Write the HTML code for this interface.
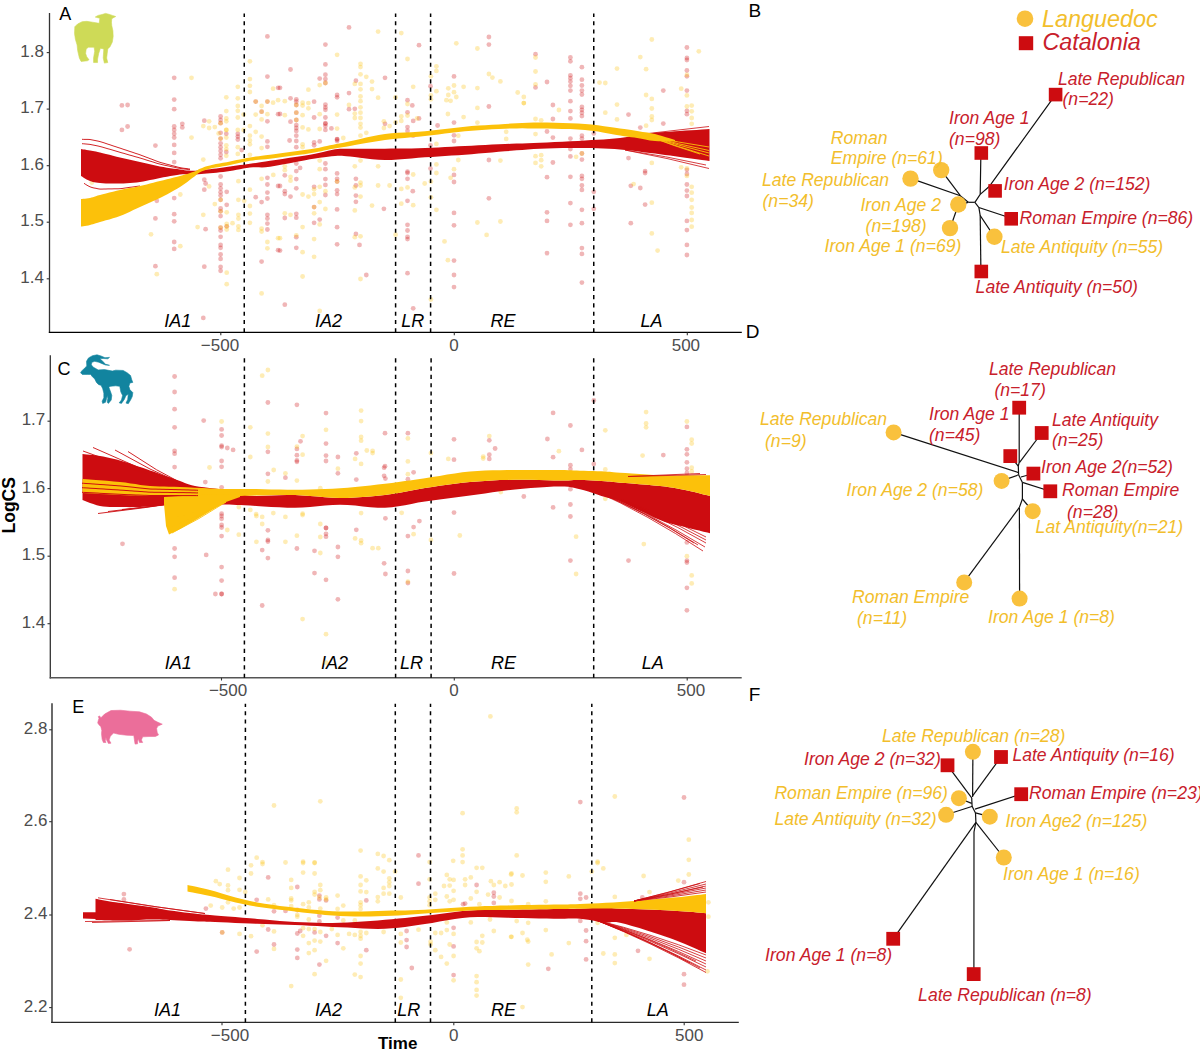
<!DOCTYPE html>
<html><head><meta charset="utf-8"><title>Figure</title>
<style>html,body{margin:0;padding:0;background:#fff;width:1200px;height:1056px;overflow:hidden}svg{display:block}text{font-family:"Liberation Sans", sans-serif}</style></head><body>
<svg width="1200" height="1056" viewBox="0 0 1200 1056">
<rect width="1200" height="1056" fill="#fff"/>
<line x1="49.50" y1="13.00" x2="49.50" y2="333.10" stroke="#333" stroke-width="1.30"/>
<line x1="48.85" y1="332.40" x2="741.80" y2="332.40" stroke="#000" stroke-width="1.40"/>
<line x1="46.7" y1="52.6" x2="49.5" y2="52.6" stroke="#333" stroke-width="1.1"/>
<text x="43.9" y="56.6" font-size="17.0" fill="#4D4D4D" text-anchor="end">1.8</text>
<line x1="46.7" y1="109.1" x2="49.5" y2="109.1" stroke="#333" stroke-width="1.1"/>
<text x="43.9" y="113.1" font-size="17.0" fill="#4D4D4D" text-anchor="end">1.7</text>
<line x1="46.7" y1="165.7" x2="49.5" y2="165.7" stroke="#333" stroke-width="1.1"/>
<text x="43.9" y="169.7" font-size="17.0" fill="#4D4D4D" text-anchor="end">1.6</text>
<line x1="46.7" y1="222.2" x2="49.5" y2="222.2" stroke="#333" stroke-width="1.1"/>
<text x="43.9" y="226.2" font-size="17.0" fill="#4D4D4D" text-anchor="end">1.5</text>
<line x1="46.7" y1="278.8" x2="49.5" y2="278.8" stroke="#333" stroke-width="1.1"/>
<text x="43.9" y="282.8" font-size="17.0" fill="#4D4D4D" text-anchor="end">1.4</text>
<line x1="220.8" y1="332.4" x2="220.8" y2="335.2" stroke="#333" stroke-width="1.1"/>
<line x1="454.3" y1="332.4" x2="454.3" y2="335.2" stroke="#333" stroke-width="1.1"/>
<line x1="687.3" y1="332.4" x2="687.3" y2="335.2" stroke="#333" stroke-width="1.1"/>
<text x="220.0" y="350.5" font-size="17.0" fill="#4D4D4D" text-anchor="middle">−500</text>
<text x="453.9" y="350.5" font-size="17.0" fill="#4D4D4D" text-anchor="middle">0</text>
<text x="685.9" y="350.5" font-size="17.0" fill="#4D4D4D" text-anchor="middle">500</text>
<text x="164.2" y="326.8" font-size="18.0" fill="#000" text-anchor="start" font-style="italic">IA1</text>
<text x="314.9" y="326.8" font-size="18.0" fill="#000" text-anchor="start" font-style="italic">IA2</text>
<text x="401.2" y="326.8" font-size="18.0" fill="#000" text-anchor="start" font-style="italic">LR</text>
<text x="490.5" y="326.8" font-size="18.0" fill="#000" text-anchor="start" font-style="italic">RE</text>
<text x="640.5" y="326.8" font-size="18.0" fill="#000" text-anchor="start" font-style="italic">LA</text>
<circle cx="174.2" cy="77.8" r="2.4" fill="rgba(205,12,16,0.30)"/>
<circle cx="174.2" cy="99.6" r="2.4" fill="rgba(205,12,16,0.30)"/>
<circle cx="174.2" cy="109.2" r="2.4" fill="rgba(205,12,16,0.30)"/>
<circle cx="121.9" cy="105.4" r="2.4" fill="rgba(205,12,16,0.30)"/>
<circle cx="127.6" cy="105.0" r="2.4" fill="rgba(205,12,16,0.30)"/>
<circle cx="121.9" cy="129.9" r="2.4" fill="rgba(205,12,16,0.30)"/>
<circle cx="127.6" cy="126.5" r="2.4" fill="rgba(205,12,16,0.30)"/>
<circle cx="155.4" cy="145.6" r="2.4" fill="rgba(205,12,16,0.30)"/>
<circle cx="174.2" cy="126.5" r="2.4" fill="rgba(205,12,16,0.30)"/>
<circle cx="174.2" cy="129.9" r="2.4" fill="rgba(205,12,16,0.30)"/>
<circle cx="174.2" cy="133.8" r="2.4" fill="rgba(205,12,16,0.30)"/>
<circle cx="174.2" cy="137.6" r="2.4" fill="rgba(205,12,16,0.30)"/>
<circle cx="174.2" cy="144.9" r="2.4" fill="rgba(205,12,16,0.30)"/>
<circle cx="174.2" cy="152.9" r="2.4" fill="rgba(205,12,16,0.30)"/>
<circle cx="174.2" cy="162.1" r="2.4" fill="rgba(205,12,16,0.30)"/>
<circle cx="182.3" cy="123.8" r="2.4" fill="rgba(205,12,16,0.30)"/>
<circle cx="182.3" cy="127.4" r="2.4" fill="rgba(205,12,16,0.30)"/>
<circle cx="204.3" cy="120.7" r="2.4" fill="rgba(205,12,16,0.30)"/>
<circle cx="220.6" cy="116.5" r="2.4" fill="rgba(205,12,16,0.30)"/>
<circle cx="220.6" cy="120.0" r="2.4" fill="rgba(205,12,16,0.30)"/>
<circle cx="220.6" cy="123.2" r="2.4" fill="rgba(205,12,16,0.30)"/>
<circle cx="220.6" cy="132.8" r="2.4" fill="rgba(205,12,16,0.30)"/>
<circle cx="220.6" cy="138.6" r="2.4" fill="rgba(205,12,16,0.30)"/>
<circle cx="220.6" cy="143.3" r="2.4" fill="rgba(205,12,16,0.30)"/>
<circle cx="220.6" cy="147.2" r="2.4" fill="rgba(205,12,16,0.30)"/>
<circle cx="220.6" cy="151.0" r="2.4" fill="rgba(205,12,16,0.30)"/>
<circle cx="220.6" cy="154.8" r="2.4" fill="rgba(205,12,16,0.30)"/>
<circle cx="220.6" cy="158.3" r="2.4" fill="rgba(205,12,16,0.30)"/>
<circle cx="226.3" cy="133.8" r="2.4" fill="rgba(205,12,16,0.30)"/>
<circle cx="226.3" cy="152.0" r="2.4" fill="rgba(205,12,16,0.30)"/>
<circle cx="237.8" cy="133.8" r="2.4" fill="rgba(205,12,16,0.30)"/>
<circle cx="237.8" cy="136.6" r="2.4" fill="rgba(205,12,16,0.30)"/>
<circle cx="237.8" cy="139.5" r="2.4" fill="rgba(205,12,16,0.30)"/>
<circle cx="241.7" cy="150.1" r="2.4" fill="rgba(205,12,16,0.30)"/>
<circle cx="255.7" cy="101.6" r="2.4" fill="rgba(205,12,16,0.30)"/>
<circle cx="261.6" cy="111.7" r="2.4" fill="rgba(205,12,16,0.30)"/>
<circle cx="267.4" cy="36.4" r="2.4" fill="rgba(205,12,16,0.30)"/>
<circle cx="267.4" cy="76.6" r="2.4" fill="rgba(205,12,16,0.30)"/>
<circle cx="267.4" cy="121.3" r="2.4" fill="rgba(205,12,16,0.30)"/>
<circle cx="267.4" cy="141.4" r="2.4" fill="rgba(205,12,16,0.30)"/>
<circle cx="267.4" cy="146.8" r="2.4" fill="rgba(205,12,16,0.30)"/>
<circle cx="278.1" cy="87.8" r="2.4" fill="rgba(205,12,16,0.30)"/>
<circle cx="278.1" cy="114.2" r="2.4" fill="rgba(205,12,16,0.30)"/>
<circle cx="267.4" cy="101.6" r="2.4" fill="rgba(205,12,16,0.30)"/>
<circle cx="191.5" cy="77.8" r="2.4" fill="rgba(252,193,10,0.30)"/>
<circle cx="191.5" cy="137.6" r="2.4" fill="rgba(252,193,10,0.30)"/>
<circle cx="203.3" cy="126.1" r="2.4" fill="rgba(252,193,10,0.30)"/>
<circle cx="203.3" cy="159.6" r="2.4" fill="rgba(252,193,10,0.30)"/>
<circle cx="209.1" cy="121.3" r="2.4" fill="rgba(252,193,10,0.30)"/>
<circle cx="209.1" cy="128.0" r="2.4" fill="rgba(252,193,10,0.30)"/>
<circle cx="214.8" cy="127.1" r="2.4" fill="rgba(252,193,10,0.30)"/>
<circle cx="218.7" cy="133.4" r="2.4" fill="rgba(252,193,10,0.30)"/>
<circle cx="226.3" cy="97.3" r="2.4" fill="rgba(252,193,10,0.30)"/>
<circle cx="226.3" cy="111.1" r="2.4" fill="rgba(252,193,10,0.30)"/>
<circle cx="226.3" cy="118.4" r="2.4" fill="rgba(252,193,10,0.30)"/>
<circle cx="226.3" cy="121.3" r="2.4" fill="rgba(252,193,10,0.30)"/>
<circle cx="226.3" cy="129.9" r="2.4" fill="rgba(252,193,10,0.30)"/>
<circle cx="226.3" cy="137.6" r="2.4" fill="rgba(252,193,10,0.30)"/>
<circle cx="226.3" cy="145.3" r="2.4" fill="rgba(252,193,10,0.30)"/>
<circle cx="226.3" cy="149.1" r="2.4" fill="rgba(252,193,10,0.30)"/>
<circle cx="226.3" cy="155.8" r="2.4" fill="rgba(252,193,10,0.30)"/>
<circle cx="237.8" cy="86.8" r="2.4" fill="rgba(252,193,10,0.30)"/>
<circle cx="237.8" cy="98.3" r="2.4" fill="rgba(252,193,10,0.30)"/>
<circle cx="237.8" cy="106.0" r="2.4" fill="rgba(252,193,10,0.30)"/>
<circle cx="237.8" cy="110.8" r="2.4" fill="rgba(252,193,10,0.30)"/>
<circle cx="237.8" cy="117.5" r="2.4" fill="rgba(252,193,10,0.30)"/>
<circle cx="237.8" cy="129.9" r="2.4" fill="rgba(252,193,10,0.30)"/>
<circle cx="237.8" cy="147.2" r="2.4" fill="rgba(252,193,10,0.30)"/>
<circle cx="237.8" cy="153.9" r="2.4" fill="rgba(252,193,10,0.30)"/>
<circle cx="243.6" cy="114.6" r="2.4" fill="rgba(252,193,10,0.30)"/>
<circle cx="243.6" cy="129.9" r="2.4" fill="rgba(252,193,10,0.30)"/>
<circle cx="249.9" cy="61.3" r="2.4" fill="rgba(252,193,10,0.30)"/>
<circle cx="249.9" cy="79.1" r="2.4" fill="rgba(252,193,10,0.30)"/>
<circle cx="249.9" cy="85.8" r="2.4" fill="rgba(252,193,10,0.30)"/>
<circle cx="249.9" cy="92.0" r="2.4" fill="rgba(252,193,10,0.30)"/>
<circle cx="249.9" cy="126.1" r="2.4" fill="rgba(252,193,10,0.30)"/>
<circle cx="249.9" cy="135.7" r="2.4" fill="rgba(252,193,10,0.30)"/>
<circle cx="249.9" cy="140.5" r="2.4" fill="rgba(252,193,10,0.30)"/>
<circle cx="249.9" cy="144.3" r="2.4" fill="rgba(252,193,10,0.30)"/>
<circle cx="249.9" cy="154.8" r="2.4" fill="rgba(252,193,10,0.30)"/>
<circle cx="255.7" cy="114.6" r="2.4" fill="rgba(252,193,10,0.30)"/>
<circle cx="255.7" cy="131.8" r="2.4" fill="rgba(252,193,10,0.30)"/>
<circle cx="261.6" cy="106.0" r="2.4" fill="rgba(252,193,10,0.30)"/>
<circle cx="261.6" cy="119.4" r="2.4" fill="rgba(252,193,10,0.30)"/>
<circle cx="261.6" cy="136.6" r="2.4" fill="rgba(252,193,10,0.30)"/>
<circle cx="261.6" cy="148.1" r="2.4" fill="rgba(252,193,10,0.30)"/>
<circle cx="267.4" cy="114.2" r="2.4" fill="rgba(252,193,10,0.30)"/>
<circle cx="273.1" cy="102.7" r="2.4" fill="rgba(252,193,10,0.30)"/>
<circle cx="273.1" cy="88.7" r="2.4" fill="rgba(252,193,10,0.30)"/>
<circle cx="278.1" cy="100.2" r="2.4" fill="rgba(252,193,10,0.30)"/>
<circle cx="220.6" cy="123.2" r="2.4" fill="rgba(252,193,10,0.30)"/>
<circle cx="220.6" cy="138.6" r="2.4" fill="rgba(252,193,10,0.30)"/>
<circle cx="226.3" cy="129.9" r="2.4" fill="rgba(252,193,10,0.30)"/>
<circle cx="255.7" cy="101.6" r="2.4" fill="rgba(252,193,10,0.30)"/>
<circle cx="261.6" cy="111.7" r="2.4" fill="rgba(252,193,10,0.30)"/>
<circle cx="267.4" cy="101.6" r="2.4" fill="rgba(252,193,10,0.30)"/>
<circle cx="156.8" cy="200.8" r="2.4" fill="rgba(205,12,16,0.30)"/>
<circle cx="155.4" cy="218.4" r="2.4" fill="rgba(205,12,16,0.30)"/>
<circle cx="155.4" cy="266.2" r="2.4" fill="rgba(205,12,16,0.30)"/>
<circle cx="174.2" cy="198.1" r="2.4" fill="rgba(205,12,16,0.30)"/>
<circle cx="174.2" cy="214.2" r="2.4" fill="rgba(205,12,16,0.30)"/>
<circle cx="174.2" cy="221.3" r="2.4" fill="rgba(205,12,16,0.30)"/>
<circle cx="174.2" cy="242.0" r="2.4" fill="rgba(205,12,16,0.30)"/>
<circle cx="174.2" cy="248.9" r="2.4" fill="rgba(205,12,16,0.30)"/>
<circle cx="204.3" cy="179.7" r="2.4" fill="rgba(205,12,16,0.30)"/>
<circle cx="205.6" cy="183.5" r="2.4" fill="rgba(205,12,16,0.30)"/>
<circle cx="204.3" cy="189.7" r="2.4" fill="rgba(205,12,16,0.30)"/>
<circle cx="205.6" cy="229.2" r="2.4" fill="rgba(205,12,16,0.30)"/>
<circle cx="204.3" cy="266.7" r="2.4" fill="rgba(205,12,16,0.30)"/>
<circle cx="203.3" cy="317.9" r="2.4" fill="rgba(205,12,16,0.30)"/>
<circle cx="220.6" cy="176.5" r="2.4" fill="rgba(205,12,16,0.30)"/>
<circle cx="220.6" cy="184.5" r="2.4" fill="rgba(205,12,16,0.30)"/>
<circle cx="220.6" cy="188.3" r="2.4" fill="rgba(205,12,16,0.30)"/>
<circle cx="220.6" cy="192.2" r="2.4" fill="rgba(205,12,16,0.30)"/>
<circle cx="220.6" cy="195.6" r="2.4" fill="rgba(205,12,16,0.30)"/>
<circle cx="220.6" cy="199.8" r="2.4" fill="rgba(205,12,16,0.30)"/>
<circle cx="220.6" cy="208.5" r="2.4" fill="rgba(205,12,16,0.30)"/>
<circle cx="220.6" cy="211.3" r="2.4" fill="rgba(205,12,16,0.30)"/>
<circle cx="220.6" cy="216.1" r="2.4" fill="rgba(205,12,16,0.30)"/>
<circle cx="220.6" cy="227.6" r="2.4" fill="rgba(205,12,16,0.30)"/>
<circle cx="220.6" cy="230.5" r="2.4" fill="rgba(205,12,16,0.30)"/>
<circle cx="220.6" cy="236.8" r="2.4" fill="rgba(205,12,16,0.30)"/>
<circle cx="220.6" cy="244.9" r="2.4" fill="rgba(205,12,16,0.30)"/>
<circle cx="220.6" cy="247.8" r="2.4" fill="rgba(205,12,16,0.30)"/>
<circle cx="220.6" cy="254.5" r="2.4" fill="rgba(205,12,16,0.30)"/>
<circle cx="220.6" cy="258.9" r="2.4" fill="rgba(205,12,16,0.30)"/>
<circle cx="220.6" cy="266.9" r="2.4" fill="rgba(205,12,16,0.30)"/>
<circle cx="220.6" cy="270.8" r="2.4" fill="rgba(205,12,16,0.30)"/>
<circle cx="226.7" cy="191.8" r="2.4" fill="rgba(205,12,16,0.30)"/>
<circle cx="226.7" cy="204.8" r="2.4" fill="rgba(205,12,16,0.30)"/>
<circle cx="226.7" cy="226.3" r="2.4" fill="rgba(205,12,16,0.30)"/>
<circle cx="255.7" cy="197.2" r="2.4" fill="rgba(205,12,16,0.30)"/>
<circle cx="261.6" cy="202.1" r="2.4" fill="rgba(205,12,16,0.30)"/>
<circle cx="261.6" cy="261.6" r="2.4" fill="rgba(205,12,16,0.30)"/>
<circle cx="267.4" cy="177.8" r="2.4" fill="rgba(205,12,16,0.30)"/>
<circle cx="267.4" cy="184.5" r="2.4" fill="rgba(205,12,16,0.30)"/>
<circle cx="267.4" cy="192.6" r="2.4" fill="rgba(205,12,16,0.30)"/>
<circle cx="267.4" cy="198.5" r="2.4" fill="rgba(205,12,16,0.30)"/>
<circle cx="267.4" cy="214.8" r="2.4" fill="rgba(205,12,16,0.30)"/>
<circle cx="267.4" cy="218.6" r="2.4" fill="rgba(205,12,16,0.30)"/>
<circle cx="267.4" cy="223.6" r="2.4" fill="rgba(205,12,16,0.30)"/>
<circle cx="267.4" cy="229.5" r="2.4" fill="rgba(205,12,16,0.30)"/>
<circle cx="278.1" cy="186.0" r="2.4" fill="rgba(205,12,16,0.30)"/>
<circle cx="278.1" cy="250.2" r="2.4" fill="rgba(205,12,16,0.30)"/>
<circle cx="91.8" cy="182.6" r="2.4" fill="rgba(252,193,10,0.30)"/>
<circle cx="151.0" cy="234.3" r="2.4" fill="rgba(252,193,10,0.30)"/>
<circle cx="156.8" cy="274.2" r="2.4" fill="rgba(252,193,10,0.30)"/>
<circle cx="180.3" cy="194.5" r="2.4" fill="rgba(252,193,10,0.30)"/>
<circle cx="180.3" cy="246.2" r="2.4" fill="rgba(252,193,10,0.30)"/>
<circle cx="197.6" cy="227.1" r="2.4" fill="rgba(252,193,10,0.30)"/>
<circle cx="203.3" cy="214.8" r="2.4" fill="rgba(252,193,10,0.30)"/>
<circle cx="209.1" cy="186.4" r="2.4" fill="rgba(252,193,10,0.30)"/>
<circle cx="214.8" cy="204.1" r="2.4" fill="rgba(252,193,10,0.30)"/>
<circle cx="226.7" cy="212.3" r="2.4" fill="rgba(252,193,10,0.30)"/>
<circle cx="226.7" cy="223.8" r="2.4" fill="rgba(252,193,10,0.30)"/>
<circle cx="226.7" cy="229.5" r="2.4" fill="rgba(252,193,10,0.30)"/>
<circle cx="226.7" cy="272.7" r="2.4" fill="rgba(252,193,10,0.30)"/>
<circle cx="226.7" cy="284.2" r="2.4" fill="rgba(252,193,10,0.30)"/>
<circle cx="232.5" cy="223.2" r="2.4" fill="rgba(252,193,10,0.30)"/>
<circle cx="238.4" cy="181.2" r="2.4" fill="rgba(252,193,10,0.30)"/>
<circle cx="238.4" cy="199.8" r="2.4" fill="rgba(252,193,10,0.30)"/>
<circle cx="238.4" cy="214.8" r="2.4" fill="rgba(252,193,10,0.30)"/>
<circle cx="238.4" cy="218.6" r="2.4" fill="rgba(252,193,10,0.30)"/>
<circle cx="238.4" cy="226.3" r="2.4" fill="rgba(252,193,10,0.30)"/>
<circle cx="238.4" cy="229.9" r="2.4" fill="rgba(252,193,10,0.30)"/>
<circle cx="244.2" cy="200.8" r="2.4" fill="rgba(252,193,10,0.30)"/>
<circle cx="249.9" cy="189.7" r="2.4" fill="rgba(252,193,10,0.30)"/>
<circle cx="249.9" cy="206.0" r="2.4" fill="rgba(252,193,10,0.30)"/>
<circle cx="249.9" cy="213.6" r="2.4" fill="rgba(252,193,10,0.30)"/>
<circle cx="249.9" cy="222.8" r="2.4" fill="rgba(252,193,10,0.30)"/>
<circle cx="261.6" cy="178.8" r="2.4" fill="rgba(252,193,10,0.30)"/>
<circle cx="261.6" cy="228.6" r="2.4" fill="rgba(252,193,10,0.30)"/>
<circle cx="261.6" cy="231.5" r="2.4" fill="rgba(252,193,10,0.30)"/>
<circle cx="261.6" cy="293.4" r="2.4" fill="rgba(252,193,10,0.30)"/>
<circle cx="267.4" cy="242.0" r="2.4" fill="rgba(252,193,10,0.30)"/>
<circle cx="267.4" cy="248.3" r="2.4" fill="rgba(252,193,10,0.30)"/>
<circle cx="273.3" cy="174.9" r="2.4" fill="rgba(252,193,10,0.30)"/>
<circle cx="278.1" cy="238.2" r="2.4" fill="rgba(252,193,10,0.30)"/>
<circle cx="220.6" cy="199.8" r="2.4" fill="rgba(252,193,10,0.30)"/>
<circle cx="220.6" cy="211.3" r="2.4" fill="rgba(252,193,10,0.30)"/>
<circle cx="220.6" cy="227.6" r="2.4" fill="rgba(252,193,10,0.30)"/>
<circle cx="226.7" cy="226.3" r="2.4" fill="rgba(252,193,10,0.30)"/>
<circle cx="349.0" cy="27.4" r="2.4" fill="rgba(205,12,16,0.30)"/>
<circle cx="325.4" cy="44.6" r="2.4" fill="rgba(205,12,16,0.30)"/>
<circle cx="325.4" cy="64.4" r="2.4" fill="rgba(205,12,16,0.30)"/>
<circle cx="325.4" cy="74.7" r="2.4" fill="rgba(205,12,16,0.30)"/>
<circle cx="325.4" cy="79.1" r="2.4" fill="rgba(205,12,16,0.30)"/>
<circle cx="290.5" cy="69.5" r="2.4" fill="rgba(205,12,16,0.30)"/>
<circle cx="319.7" cy="78.6" r="2.4" fill="rgba(205,12,16,0.30)"/>
<circle cx="280.0" cy="87.8" r="2.4" fill="rgba(205,12,16,0.30)"/>
<circle cx="290.5" cy="98.3" r="2.4" fill="rgba(205,12,16,0.30)"/>
<circle cx="296.3" cy="99.3" r="2.4" fill="rgba(205,12,16,0.30)"/>
<circle cx="296.3" cy="101.6" r="2.4" fill="rgba(205,12,16,0.30)"/>
<circle cx="296.3" cy="125.1" r="2.4" fill="rgba(205,12,16,0.30)"/>
<circle cx="296.3" cy="128.0" r="2.4" fill="rgba(205,12,16,0.30)"/>
<circle cx="296.3" cy="130.9" r="2.4" fill="rgba(205,12,16,0.30)"/>
<circle cx="296.3" cy="135.7" r="2.4" fill="rgba(205,12,16,0.30)"/>
<circle cx="296.3" cy="141.0" r="2.4" fill="rgba(205,12,16,0.30)"/>
<circle cx="296.3" cy="147.2" r="2.4" fill="rgba(205,12,16,0.30)"/>
<circle cx="296.3" cy="163.5" r="2.4" fill="rgba(205,12,16,0.30)"/>
<circle cx="296.3" cy="171.1" r="2.4" fill="rgba(205,12,16,0.30)"/>
<circle cx="290.5" cy="121.7" r="2.4" fill="rgba(205,12,16,0.30)"/>
<circle cx="289.6" cy="140.5" r="2.4" fill="rgba(205,12,16,0.30)"/>
<circle cx="280.0" cy="114.0" r="2.4" fill="rgba(205,12,16,0.30)"/>
<circle cx="314.1" cy="101.7" r="2.4" fill="rgba(205,12,16,0.30)"/>
<circle cx="314.1" cy="142.4" r="2.4" fill="rgba(205,12,16,0.30)"/>
<circle cx="314.1" cy="145.3" r="2.4" fill="rgba(205,12,16,0.30)"/>
<circle cx="319.7" cy="141.4" r="2.4" fill="rgba(205,12,16,0.30)"/>
<circle cx="325.4" cy="104.6" r="2.4" fill="rgba(205,12,16,0.30)"/>
<circle cx="325.4" cy="107.3" r="2.4" fill="rgba(205,12,16,0.30)"/>
<circle cx="325.4" cy="109.8" r="2.4" fill="rgba(205,12,16,0.30)"/>
<circle cx="325.4" cy="117.5" r="2.4" fill="rgba(205,12,16,0.30)"/>
<circle cx="325.4" cy="123.2" r="2.4" fill="rgba(205,12,16,0.30)"/>
<circle cx="325.4" cy="126.1" r="2.4" fill="rgba(205,12,16,0.30)"/>
<circle cx="325.4" cy="129.9" r="2.4" fill="rgba(205,12,16,0.30)"/>
<circle cx="325.4" cy="163.5" r="2.4" fill="rgba(205,12,16,0.30)"/>
<circle cx="325.4" cy="169.2" r="2.4" fill="rgba(205,12,16,0.30)"/>
<circle cx="331.4" cy="128.4" r="2.4" fill="rgba(205,12,16,0.30)"/>
<circle cx="337.1" cy="95.0" r="2.4" fill="rgba(205,12,16,0.30)"/>
<circle cx="337.1" cy="97.3" r="2.4" fill="rgba(205,12,16,0.30)"/>
<circle cx="337.1" cy="139.1" r="2.4" fill="rgba(205,12,16,0.30)"/>
<circle cx="337.1" cy="141.0" r="2.4" fill="rgba(205,12,16,0.30)"/>
<circle cx="349.0" cy="93.1" r="2.4" fill="rgba(205,12,16,0.30)"/>
<circle cx="349.0" cy="109.2" r="2.4" fill="rgba(205,12,16,0.30)"/>
<circle cx="354.8" cy="108.8" r="2.4" fill="rgba(205,12,16,0.30)"/>
<circle cx="355.9" cy="80.7" r="2.4" fill="rgba(205,12,16,0.30)"/>
<circle cx="385.0" cy="77.8" r="2.4" fill="rgba(205,12,16,0.30)"/>
<circle cx="385.0" cy="123.8" r="2.4" fill="rgba(205,12,16,0.30)"/>
<circle cx="407.5" cy="100.2" r="2.4" fill="rgba(205,12,16,0.30)"/>
<circle cx="412.3" cy="105.4" r="2.4" fill="rgba(205,12,16,0.30)"/>
<circle cx="407.5" cy="112.3" r="2.4" fill="rgba(205,12,16,0.30)"/>
<circle cx="413.2" cy="120.9" r="2.4" fill="rgba(205,12,16,0.30)"/>
<circle cx="419.0" cy="118.4" r="2.4" fill="rgba(205,12,16,0.30)"/>
<circle cx="407.5" cy="127.1" r="2.4" fill="rgba(205,12,16,0.30)"/>
<circle cx="407.5" cy="130.9" r="2.4" fill="rgba(205,12,16,0.30)"/>
<circle cx="413.2" cy="135.7" r="2.4" fill="rgba(205,12,16,0.30)"/>
<circle cx="419.0" cy="45.2" r="2.4" fill="rgba(205,12,16,0.30)"/>
<circle cx="430.5" cy="86.2" r="2.4" fill="rgba(205,12,16,0.30)"/>
<circle cx="430.5" cy="145.3" r="2.4" fill="rgba(205,12,16,0.30)"/>
<circle cx="430.5" cy="168.6" r="2.4" fill="rgba(205,12,16,0.30)"/>
<circle cx="437.6" cy="125.5" r="2.4" fill="rgba(205,12,16,0.30)"/>
<circle cx="454.0" cy="76.4" r="2.4" fill="rgba(205,12,16,0.30)"/>
<circle cx="454.0" cy="122.6" r="2.4" fill="rgba(205,12,16,0.30)"/>
<circle cx="454.0" cy="135.3" r="2.4" fill="rgba(205,12,16,0.30)"/>
<circle cx="454.0" cy="141.0" r="2.4" fill="rgba(205,12,16,0.30)"/>
<circle cx="488.9" cy="37.0" r="2.4" fill="rgba(205,12,16,0.30)"/>
<circle cx="488.9" cy="44.6" r="2.4" fill="rgba(205,12,16,0.30)"/>
<circle cx="488.9" cy="106.5" r="2.4" fill="rgba(205,12,16,0.30)"/>
<circle cx="488.9" cy="160.0" r="2.4" fill="rgba(205,12,16,0.30)"/>
<circle cx="407.5" cy="171.7" r="2.4" fill="rgba(205,12,16,0.30)"/>
<circle cx="300.1" cy="167.9" r="2.4" fill="rgba(205,12,16,0.30)"/>
<circle cx="296.3" cy="105.0" r="2.4" fill="rgba(205,12,16,0.30)"/>
<circle cx="296.3" cy="112.7" r="2.4" fill="rgba(205,12,16,0.30)"/>
<circle cx="296.3" cy="120.0" r="2.4" fill="rgba(205,12,16,0.30)"/>
<circle cx="314.1" cy="117.5" r="2.4" fill="rgba(205,12,16,0.30)"/>
<circle cx="325.4" cy="83.0" r="2.4" fill="rgba(205,12,16,0.30)"/>
<circle cx="325.4" cy="123.8" r="2.4" fill="rgba(205,12,16,0.30)"/>
<circle cx="337.1" cy="139.5" r="2.4" fill="rgba(205,12,16,0.30)"/>
<circle cx="378.1" cy="31.6" r="2.4" fill="rgba(252,193,10,0.30)"/>
<circle cx="401.3" cy="33.1" r="2.4" fill="rgba(252,193,10,0.30)"/>
<circle cx="337.1" cy="54.8" r="2.4" fill="rgba(252,193,10,0.30)"/>
<circle cx="407.5" cy="59.0" r="2.4" fill="rgba(252,193,10,0.30)"/>
<circle cx="360.5" cy="63.8" r="2.4" fill="rgba(252,193,10,0.30)"/>
<circle cx="360.5" cy="67.1" r="2.4" fill="rgba(252,193,10,0.30)"/>
<circle cx="360.5" cy="74.3" r="2.4" fill="rgba(252,193,10,0.30)"/>
<circle cx="366.3" cy="76.8" r="2.4" fill="rgba(252,193,10,0.30)"/>
<circle cx="354.8" cy="83.9" r="2.4" fill="rgba(252,193,10,0.30)"/>
<circle cx="360.5" cy="83.9" r="2.4" fill="rgba(252,193,10,0.30)"/>
<circle cx="360.5" cy="89.3" r="2.4" fill="rgba(252,193,10,0.30)"/>
<circle cx="360.5" cy="96.4" r="2.4" fill="rgba(252,193,10,0.30)"/>
<circle cx="360.5" cy="101.2" r="2.4" fill="rgba(252,193,10,0.30)"/>
<circle cx="360.5" cy="107.3" r="2.4" fill="rgba(252,193,10,0.30)"/>
<circle cx="360.5" cy="112.7" r="2.4" fill="rgba(252,193,10,0.30)"/>
<circle cx="360.5" cy="118.0" r="2.4" fill="rgba(252,193,10,0.30)"/>
<circle cx="360.5" cy="123.8" r="2.4" fill="rgba(252,193,10,0.30)"/>
<circle cx="360.5" cy="127.6" r="2.4" fill="rgba(252,193,10,0.30)"/>
<circle cx="360.5" cy="135.7" r="2.4" fill="rgba(252,193,10,0.30)"/>
<circle cx="366.3" cy="132.8" r="2.4" fill="rgba(252,193,10,0.30)"/>
<circle cx="372.0" cy="81.6" r="2.4" fill="rgba(252,193,10,0.30)"/>
<circle cx="372.0" cy="89.1" r="2.4" fill="rgba(252,193,10,0.30)"/>
<circle cx="308.4" cy="89.7" r="2.4" fill="rgba(252,193,10,0.30)"/>
<circle cx="319.7" cy="85.1" r="2.4" fill="rgba(252,193,10,0.30)"/>
<circle cx="284.8" cy="101.2" r="2.4" fill="rgba(252,193,10,0.30)"/>
<circle cx="302.6" cy="102.7" r="2.4" fill="rgba(252,193,10,0.30)"/>
<circle cx="302.6" cy="105.6" r="2.4" fill="rgba(252,193,10,0.30)"/>
<circle cx="308.4" cy="103.1" r="2.4" fill="rgba(252,193,10,0.30)"/>
<circle cx="308.4" cy="108.3" r="2.4" fill="rgba(252,193,10,0.30)"/>
<circle cx="284.8" cy="115.2" r="2.4" fill="rgba(252,193,10,0.30)"/>
<circle cx="302.6" cy="115.2" r="2.4" fill="rgba(252,193,10,0.30)"/>
<circle cx="308.4" cy="129.4" r="2.4" fill="rgba(252,193,10,0.30)"/>
<circle cx="302.6" cy="127.4" r="2.4" fill="rgba(252,193,10,0.30)"/>
<circle cx="319.7" cy="114.2" r="2.4" fill="rgba(252,193,10,0.30)"/>
<circle cx="319.7" cy="129.0" r="2.4" fill="rgba(252,193,10,0.30)"/>
<circle cx="337.1" cy="114.6" r="2.4" fill="rgba(252,193,10,0.30)"/>
<circle cx="337.1" cy="128.6" r="2.4" fill="rgba(252,193,10,0.30)"/>
<circle cx="343.3" cy="138.0" r="2.4" fill="rgba(252,193,10,0.30)"/>
<circle cx="349.0" cy="105.0" r="2.4" fill="rgba(252,193,10,0.30)"/>
<circle cx="354.8" cy="113.6" r="2.4" fill="rgba(252,193,10,0.30)"/>
<circle cx="354.8" cy="118.0" r="2.4" fill="rgba(252,193,10,0.30)"/>
<circle cx="378.1" cy="97.7" r="2.4" fill="rgba(252,193,10,0.30)"/>
<circle cx="383.9" cy="121.3" r="2.4" fill="rgba(252,193,10,0.30)"/>
<circle cx="383.9" cy="128.0" r="2.4" fill="rgba(252,193,10,0.30)"/>
<circle cx="389.6" cy="126.1" r="2.4" fill="rgba(252,193,10,0.30)"/>
<circle cx="395.6" cy="97.3" r="2.4" fill="rgba(252,193,10,0.30)"/>
<circle cx="395.6" cy="122.3" r="2.4" fill="rgba(252,193,10,0.30)"/>
<circle cx="401.3" cy="116.5" r="2.4" fill="rgba(252,193,10,0.30)"/>
<circle cx="401.3" cy="120.9" r="2.4" fill="rgba(252,193,10,0.30)"/>
<circle cx="407.5" cy="104.0" r="2.4" fill="rgba(252,193,10,0.30)"/>
<circle cx="407.5" cy="115.5" r="2.4" fill="rgba(252,193,10,0.30)"/>
<circle cx="413.2" cy="86.8" r="2.4" fill="rgba(252,193,10,0.30)"/>
<circle cx="417.1" cy="118.4" r="2.4" fill="rgba(252,193,10,0.30)"/>
<circle cx="436.4" cy="66.3" r="2.4" fill="rgba(252,193,10,0.30)"/>
<circle cx="436.4" cy="70.9" r="2.4" fill="rgba(252,193,10,0.30)"/>
<circle cx="430.9" cy="76.3" r="2.4" fill="rgba(252,193,10,0.30)"/>
<circle cx="436.4" cy="91.2" r="2.4" fill="rgba(252,193,10,0.30)"/>
<circle cx="430.9" cy="95.4" r="2.4" fill="rgba(252,193,10,0.30)"/>
<circle cx="430.9" cy="99.3" r="2.4" fill="rgba(252,193,10,0.30)"/>
<circle cx="448.3" cy="88.3" r="2.4" fill="rgba(252,193,10,0.30)"/>
<circle cx="454.0" cy="85.5" r="2.4" fill="rgba(252,193,10,0.30)"/>
<circle cx="454.0" cy="92.2" r="2.4" fill="rgba(252,193,10,0.30)"/>
<circle cx="448.3" cy="95.0" r="2.4" fill="rgba(252,193,10,0.30)"/>
<circle cx="456.3" cy="97.0" r="2.4" fill="rgba(252,193,10,0.30)"/>
<circle cx="446.4" cy="100.2" r="2.4" fill="rgba(252,193,10,0.30)"/>
<circle cx="450.6" cy="100.8" r="2.4" fill="rgba(252,193,10,0.30)"/>
<circle cx="463.6" cy="86.8" r="2.4" fill="rgba(252,193,10,0.30)"/>
<circle cx="477.4" cy="48.5" r="2.4" fill="rgba(252,193,10,0.30)"/>
<circle cx="456.3" cy="43.3" r="2.4" fill="rgba(252,193,10,0.30)"/>
<circle cx="477.4" cy="88.1" r="2.4" fill="rgba(252,193,10,0.30)"/>
<circle cx="477.4" cy="107.9" r="2.4" fill="rgba(252,193,10,0.30)"/>
<circle cx="488.9" cy="74.0" r="2.4" fill="rgba(252,193,10,0.30)"/>
<circle cx="492.4" cy="77.6" r="2.4" fill="rgba(252,193,10,0.30)"/>
<circle cx="500.4" cy="81.4" r="2.4" fill="rgba(252,193,10,0.30)"/>
<circle cx="463.6" cy="117.1" r="2.4" fill="rgba(252,193,10,0.30)"/>
<circle cx="447.9" cy="114.0" r="2.4" fill="rgba(252,193,10,0.30)"/>
<circle cx="477.4" cy="122.6" r="2.4" fill="rgba(252,193,10,0.30)"/>
<circle cx="458.3" cy="135.7" r="2.4" fill="rgba(252,193,10,0.30)"/>
<circle cx="506.2" cy="131.8" r="2.4" fill="rgba(252,193,10,0.30)"/>
<circle cx="506.2" cy="138.9" r="2.4" fill="rgba(252,193,10,0.30)"/>
<circle cx="302.6" cy="144.3" r="2.4" fill="rgba(252,193,10,0.30)"/>
<circle cx="302.6" cy="147.2" r="2.4" fill="rgba(252,193,10,0.30)"/>
<circle cx="319.7" cy="160.6" r="2.4" fill="rgba(252,193,10,0.30)"/>
<circle cx="354.8" cy="166.3" r="2.4" fill="rgba(252,193,10,0.30)"/>
<circle cx="360.5" cy="160.6" r="2.4" fill="rgba(252,193,10,0.30)"/>
<circle cx="378.1" cy="166.3" r="2.4" fill="rgba(252,193,10,0.30)"/>
<circle cx="436.4" cy="164.4" r="2.4" fill="rgba(252,193,10,0.30)"/>
<circle cx="436.4" cy="143.9" r="2.4" fill="rgba(252,193,10,0.30)"/>
<circle cx="458.3" cy="160.0" r="2.4" fill="rgba(252,193,10,0.30)"/>
<circle cx="500.4" cy="160.6" r="2.4" fill="rgba(252,193,10,0.30)"/>
<circle cx="284.8" cy="166.3" r="2.4" fill="rgba(252,193,10,0.30)"/>
<circle cx="284.8" cy="170.2" r="2.4" fill="rgba(252,193,10,0.30)"/>
<circle cx="319.7" cy="169.2" r="2.4" fill="rgba(252,193,10,0.30)"/>
<circle cx="296.3" cy="105.0" r="2.4" fill="rgba(252,193,10,0.30)"/>
<circle cx="296.3" cy="112.7" r="2.4" fill="rgba(252,193,10,0.30)"/>
<circle cx="296.3" cy="120.0" r="2.4" fill="rgba(252,193,10,0.30)"/>
<circle cx="325.4" cy="83.0" r="2.4" fill="rgba(252,193,10,0.30)"/>
<circle cx="454.0" cy="169.2" r="2.4" fill="rgba(252,193,10,0.30)"/>
<circle cx="284.8" cy="175.3" r="2.4" fill="rgba(205,12,16,0.30)"/>
<circle cx="284.8" cy="191.2" r="2.4" fill="rgba(205,12,16,0.30)"/>
<circle cx="284.8" cy="194.1" r="2.4" fill="rgba(205,12,16,0.30)"/>
<circle cx="284.8" cy="218.0" r="2.4" fill="rgba(205,12,16,0.30)"/>
<circle cx="284.8" cy="304.7" r="2.4" fill="rgba(205,12,16,0.30)"/>
<circle cx="290.5" cy="196.6" r="2.4" fill="rgba(205,12,16,0.30)"/>
<circle cx="296.3" cy="179.1" r="2.4" fill="rgba(205,12,16,0.30)"/>
<circle cx="296.3" cy="188.3" r="2.4" fill="rgba(205,12,16,0.30)"/>
<circle cx="296.3" cy="213.8" r="2.4" fill="rgba(205,12,16,0.30)"/>
<circle cx="296.3" cy="217.7" r="2.4" fill="rgba(205,12,16,0.30)"/>
<circle cx="296.3" cy="237.2" r="2.4" fill="rgba(205,12,16,0.30)"/>
<circle cx="296.3" cy="247.8" r="2.4" fill="rgba(205,12,16,0.30)"/>
<circle cx="280.0" cy="186.0" r="2.4" fill="rgba(205,12,16,0.30)"/>
<circle cx="280.0" cy="250.6" r="2.4" fill="rgba(205,12,16,0.30)"/>
<circle cx="314.1" cy="186.8" r="2.4" fill="rgba(205,12,16,0.30)"/>
<circle cx="314.1" cy="207.1" r="2.4" fill="rgba(205,12,16,0.30)"/>
<circle cx="314.1" cy="222.8" r="2.4" fill="rgba(205,12,16,0.30)"/>
<circle cx="319.7" cy="219.6" r="2.4" fill="rgba(205,12,16,0.30)"/>
<circle cx="325.4" cy="179.1" r="2.4" fill="rgba(205,12,16,0.30)"/>
<circle cx="325.4" cy="184.9" r="2.4" fill="rgba(205,12,16,0.30)"/>
<circle cx="325.4" cy="195.0" r="2.4" fill="rgba(205,12,16,0.30)"/>
<circle cx="337.1" cy="173.4" r="2.4" fill="rgba(205,12,16,0.30)"/>
<circle cx="337.1" cy="178.8" r="2.4" fill="rgba(205,12,16,0.30)"/>
<circle cx="337.1" cy="181.6" r="2.4" fill="rgba(205,12,16,0.30)"/>
<circle cx="337.1" cy="190.3" r="2.4" fill="rgba(205,12,16,0.30)"/>
<circle cx="337.1" cy="194.1" r="2.4" fill="rgba(205,12,16,0.30)"/>
<circle cx="337.1" cy="209.4" r="2.4" fill="rgba(205,12,16,0.30)"/>
<circle cx="337.1" cy="227.2" r="2.4" fill="rgba(205,12,16,0.30)"/>
<circle cx="337.1" cy="244.3" r="2.4" fill="rgba(205,12,16,0.30)"/>
<circle cx="355.9" cy="178.8" r="2.4" fill="rgba(205,12,16,0.30)"/>
<circle cx="355.9" cy="185.5" r="2.4" fill="rgba(205,12,16,0.30)"/>
<circle cx="355.9" cy="195.6" r="2.4" fill="rgba(205,12,16,0.30)"/>
<circle cx="355.9" cy="201.8" r="2.4" fill="rgba(205,12,16,0.30)"/>
<circle cx="355.9" cy="234.0" r="2.4" fill="rgba(205,12,16,0.30)"/>
<circle cx="359.5" cy="244.9" r="2.4" fill="rgba(205,12,16,0.30)"/>
<circle cx="366.3" cy="275.0" r="2.4" fill="rgba(205,12,16,0.30)"/>
<circle cx="383.9" cy="208.8" r="2.4" fill="rgba(205,12,16,0.30)"/>
<circle cx="407.5" cy="173.0" r="2.4" fill="rgba(205,12,16,0.30)"/>
<circle cx="407.5" cy="178.8" r="2.4" fill="rgba(205,12,16,0.30)"/>
<circle cx="412.8" cy="191.2" r="2.4" fill="rgba(205,12,16,0.30)"/>
<circle cx="407.5" cy="200.8" r="2.4" fill="rgba(205,12,16,0.30)"/>
<circle cx="407.5" cy="224.8" r="2.4" fill="rgba(205,12,16,0.30)"/>
<circle cx="407.5" cy="230.5" r="2.4" fill="rgba(205,12,16,0.30)"/>
<circle cx="407.5" cy="236.8" r="2.4" fill="rgba(205,12,16,0.30)"/>
<circle cx="407.5" cy="239.1" r="2.4" fill="rgba(205,12,16,0.30)"/>
<circle cx="407.5" cy="273.2" r="2.4" fill="rgba(205,12,16,0.30)"/>
<circle cx="413.2" cy="308.3" r="2.4" fill="rgba(205,12,16,0.30)"/>
<circle cx="454.0" cy="174.9" r="2.4" fill="rgba(205,12,16,0.30)"/>
<circle cx="454.0" cy="182.0" r="2.4" fill="rgba(205,12,16,0.30)"/>
<circle cx="454.0" cy="212.9" r="2.4" fill="rgba(205,12,16,0.30)"/>
<circle cx="454.0" cy="225.3" r="2.4" fill="rgba(205,12,16,0.30)"/>
<circle cx="454.0" cy="260.6" r="2.4" fill="rgba(205,12,16,0.30)"/>
<circle cx="454.0" cy="275.0" r="2.4" fill="rgba(205,12,16,0.30)"/>
<circle cx="454.0" cy="287.1" r="2.4" fill="rgba(205,12,16,0.30)"/>
<circle cx="488.9" cy="198.3" r="2.4" fill="rgba(205,12,16,0.30)"/>
<circle cx="290.5" cy="176.8" r="2.4" fill="rgba(252,193,10,0.30)"/>
<circle cx="290.5" cy="180.7" r="2.4" fill="rgba(252,193,10,0.30)"/>
<circle cx="284.8" cy="213.3" r="2.4" fill="rgba(252,193,10,0.30)"/>
<circle cx="290.5" cy="214.8" r="2.4" fill="rgba(252,193,10,0.30)"/>
<circle cx="302.6" cy="194.5" r="2.4" fill="rgba(252,193,10,0.30)"/>
<circle cx="308.4" cy="196.6" r="2.4" fill="rgba(252,193,10,0.30)"/>
<circle cx="302.6" cy="227.1" r="2.4" fill="rgba(252,193,10,0.30)"/>
<circle cx="296.3" cy="235.3" r="2.4" fill="rgba(252,193,10,0.30)"/>
<circle cx="302.6" cy="252.2" r="2.4" fill="rgba(252,193,10,0.30)"/>
<circle cx="302.6" cy="276.5" r="2.4" fill="rgba(252,193,10,0.30)"/>
<circle cx="280.0" cy="238.2" r="2.4" fill="rgba(252,193,10,0.30)"/>
<circle cx="314.1" cy="189.3" r="2.4" fill="rgba(252,193,10,0.30)"/>
<circle cx="314.1" cy="194.1" r="2.4" fill="rgba(252,193,10,0.30)"/>
<circle cx="314.1" cy="213.3" r="2.4" fill="rgba(252,193,10,0.30)"/>
<circle cx="314.1" cy="239.1" r="2.4" fill="rgba(252,193,10,0.30)"/>
<circle cx="314.1" cy="256.8" r="2.4" fill="rgba(252,193,10,0.30)"/>
<circle cx="319.7" cy="186.8" r="2.4" fill="rgba(252,193,10,0.30)"/>
<circle cx="319.7" cy="202.1" r="2.4" fill="rgba(252,193,10,0.30)"/>
<circle cx="319.7" cy="224.4" r="2.4" fill="rgba(252,193,10,0.30)"/>
<circle cx="325.4" cy="191.2" r="2.4" fill="rgba(252,193,10,0.30)"/>
<circle cx="325.4" cy="209.0" r="2.4" fill="rgba(252,193,10,0.30)"/>
<circle cx="319.7" cy="311.0" r="2.4" fill="rgba(252,193,10,0.30)"/>
<circle cx="354.8" cy="187.4" r="2.4" fill="rgba(252,193,10,0.30)"/>
<circle cx="360.5" cy="182.6" r="2.4" fill="rgba(252,193,10,0.30)"/>
<circle cx="360.5" cy="185.5" r="2.4" fill="rgba(252,193,10,0.30)"/>
<circle cx="360.5" cy="196.6" r="2.4" fill="rgba(252,193,10,0.30)"/>
<circle cx="354.8" cy="210.4" r="2.4" fill="rgba(252,193,10,0.30)"/>
<circle cx="354.8" cy="237.2" r="2.4" fill="rgba(252,193,10,0.30)"/>
<circle cx="360.5" cy="236.3" r="2.4" fill="rgba(252,193,10,0.30)"/>
<circle cx="360.5" cy="279.0" r="2.4" fill="rgba(252,193,10,0.30)"/>
<circle cx="372.0" cy="205.6" r="2.4" fill="rgba(252,193,10,0.30)"/>
<circle cx="378.1" cy="185.5" r="2.4" fill="rgba(252,193,10,0.30)"/>
<circle cx="389.6" cy="185.5" r="2.4" fill="rgba(252,193,10,0.30)"/>
<circle cx="395.6" cy="234.7" r="2.4" fill="rgba(252,193,10,0.30)"/>
<circle cx="401.3" cy="188.9" r="2.4" fill="rgba(252,193,10,0.30)"/>
<circle cx="407.5" cy="187.4" r="2.4" fill="rgba(252,193,10,0.30)"/>
<circle cx="401.3" cy="203.7" r="2.4" fill="rgba(252,193,10,0.30)"/>
<circle cx="413.2" cy="205.2" r="2.4" fill="rgba(252,193,10,0.30)"/>
<circle cx="413.2" cy="174.5" r="2.4" fill="rgba(252,193,10,0.30)"/>
<circle cx="424.7" cy="183.5" r="2.4" fill="rgba(252,193,10,0.30)"/>
<circle cx="430.9" cy="181.6" r="2.4" fill="rgba(252,193,10,0.30)"/>
<circle cx="430.9" cy="197.3" r="2.4" fill="rgba(252,193,10,0.30)"/>
<circle cx="436.4" cy="209.8" r="2.4" fill="rgba(252,193,10,0.30)"/>
<circle cx="436.4" cy="173.0" r="2.4" fill="rgba(252,193,10,0.30)"/>
<circle cx="430.9" cy="299.5" r="2.4" fill="rgba(252,193,10,0.30)"/>
<circle cx="450.6" cy="177.8" r="2.4" fill="rgba(252,193,10,0.30)"/>
<circle cx="444.5" cy="241.4" r="2.4" fill="rgba(252,193,10,0.30)"/>
<circle cx="447.9" cy="260.2" r="2.4" fill="rgba(252,193,10,0.30)"/>
<circle cx="477.4" cy="222.5" r="2.4" fill="rgba(252,193,10,0.30)"/>
<circle cx="486.6" cy="234.9" r="2.4" fill="rgba(252,193,10,0.30)"/>
<circle cx="500.4" cy="221.5" r="2.4" fill="rgba(252,193,10,0.30)"/>
<circle cx="314.1" cy="207.1" r="2.4" fill="rgba(252,193,10,0.30)"/>
<circle cx="337.1" cy="181.6" r="2.4" fill="rgba(252,193,10,0.30)"/>
<circle cx="535.5" cy="54.2" r="2.4" fill="rgba(205,12,16,0.30)"/>
<circle cx="535.5" cy="87.4" r="2.4" fill="rgba(205,12,16,0.30)"/>
<circle cx="547.0" cy="82.0" r="2.4" fill="rgba(205,12,16,0.30)"/>
<circle cx="552.9" cy="105.0" r="2.4" fill="rgba(205,12,16,0.30)"/>
<circle cx="552.9" cy="119.0" r="2.4" fill="rgba(205,12,16,0.30)"/>
<circle cx="547.0" cy="131.5" r="2.4" fill="rgba(205,12,16,0.30)"/>
<circle cx="552.9" cy="137.6" r="2.4" fill="rgba(205,12,16,0.30)"/>
<circle cx="552.9" cy="162.5" r="2.4" fill="rgba(205,12,16,0.30)"/>
<circle cx="570.4" cy="57.5" r="2.4" fill="rgba(205,12,16,0.30)"/>
<circle cx="570.4" cy="61.3" r="2.4" fill="rgba(205,12,16,0.30)"/>
<circle cx="570.4" cy="75.3" r="2.4" fill="rgba(205,12,16,0.30)"/>
<circle cx="570.4" cy="78.2" r="2.4" fill="rgba(205,12,16,0.30)"/>
<circle cx="570.4" cy="81.6" r="2.4" fill="rgba(205,12,16,0.30)"/>
<circle cx="570.4" cy="85.8" r="2.4" fill="rgba(205,12,16,0.30)"/>
<circle cx="570.4" cy="90.6" r="2.4" fill="rgba(205,12,16,0.30)"/>
<circle cx="570.4" cy="101.2" r="2.4" fill="rgba(205,12,16,0.30)"/>
<circle cx="570.4" cy="111.1" r="2.4" fill="rgba(205,12,16,0.30)"/>
<circle cx="570.4" cy="118.4" r="2.4" fill="rgba(205,12,16,0.30)"/>
<circle cx="570.4" cy="138.6" r="2.4" fill="rgba(205,12,16,0.30)"/>
<circle cx="570.4" cy="149.1" r="2.4" fill="rgba(205,12,16,0.30)"/>
<circle cx="570.4" cy="156.4" r="2.4" fill="rgba(205,12,16,0.30)"/>
<circle cx="581.9" cy="67.2" r="2.4" fill="rgba(205,12,16,0.30)"/>
<circle cx="581.9" cy="79.7" r="2.4" fill="rgba(205,12,16,0.30)"/>
<circle cx="581.9" cy="85.5" r="2.4" fill="rgba(205,12,16,0.30)"/>
<circle cx="581.9" cy="90.6" r="2.4" fill="rgba(205,12,16,0.30)"/>
<circle cx="581.9" cy="94.5" r="2.4" fill="rgba(205,12,16,0.30)"/>
<circle cx="581.9" cy="106.9" r="2.4" fill="rgba(205,12,16,0.30)"/>
<circle cx="581.9" cy="109.8" r="2.4" fill="rgba(205,12,16,0.30)"/>
<circle cx="581.9" cy="112.7" r="2.4" fill="rgba(205,12,16,0.30)"/>
<circle cx="581.9" cy="116.1" r="2.4" fill="rgba(205,12,16,0.30)"/>
<circle cx="581.9" cy="135.7" r="2.4" fill="rgba(205,12,16,0.30)"/>
<circle cx="581.9" cy="138.6" r="2.4" fill="rgba(205,12,16,0.30)"/>
<circle cx="581.9" cy="159.6" r="2.4" fill="rgba(205,12,16,0.30)"/>
<circle cx="593.8" cy="133.4" r="2.4" fill="rgba(205,12,16,0.30)"/>
<circle cx="628.5" cy="114.6" r="2.4" fill="rgba(205,12,16,0.30)"/>
<circle cx="628.5" cy="158.1" r="2.4" fill="rgba(205,12,16,0.30)"/>
<circle cx="640.3" cy="127.6" r="2.4" fill="rgba(205,12,16,0.30)"/>
<circle cx="645.1" cy="171.1" r="2.4" fill="rgba(205,12,16,0.30)"/>
<circle cx="663.3" cy="90.6" r="2.4" fill="rgba(205,12,16,0.30)"/>
<circle cx="663.3" cy="123.6" r="2.4" fill="rgba(205,12,16,0.30)"/>
<circle cx="686.9" cy="47.5" r="2.4" fill="rgba(205,12,16,0.30)"/>
<circle cx="686.9" cy="58.0" r="2.4" fill="rgba(205,12,16,0.30)"/>
<circle cx="686.9" cy="60.0" r="2.4" fill="rgba(205,12,16,0.30)"/>
<circle cx="686.9" cy="70.5" r="2.4" fill="rgba(205,12,16,0.30)"/>
<circle cx="686.9" cy="76.3" r="2.4" fill="rgba(205,12,16,0.30)"/>
<circle cx="686.9" cy="90.6" r="2.4" fill="rgba(205,12,16,0.30)"/>
<circle cx="686.9" cy="110.8" r="2.4" fill="rgba(205,12,16,0.30)"/>
<circle cx="686.9" cy="114.2" r="2.4" fill="rgba(205,12,16,0.30)"/>
<circle cx="686.9" cy="169.8" r="2.4" fill="rgba(205,12,16,0.30)"/>
<circle cx="581.9" cy="153.5" r="2.4" fill="rgba(205,12,16,0.30)"/>
<circle cx="535.5" cy="57.5" r="2.4" fill="rgba(252,193,10,0.30)"/>
<circle cx="535.5" cy="71.5" r="2.4" fill="rgba(252,193,10,0.30)"/>
<circle cx="535.5" cy="84.3" r="2.4" fill="rgba(252,193,10,0.30)"/>
<circle cx="517.7" cy="92.5" r="2.4" fill="rgba(252,193,10,0.30)"/>
<circle cx="523.8" cy="97.0" r="2.4" fill="rgba(252,193,10,0.30)"/>
<circle cx="523.8" cy="103.1" r="2.4" fill="rgba(252,193,10,0.30)"/>
<circle cx="558.9" cy="110.0" r="2.4" fill="rgba(252,193,10,0.30)"/>
<circle cx="535.5" cy="119.0" r="2.4" fill="rgba(252,193,10,0.30)"/>
<circle cx="541.2" cy="120.3" r="2.4" fill="rgba(252,193,10,0.30)"/>
<circle cx="535.5" cy="134.1" r="2.4" fill="rgba(252,193,10,0.30)"/>
<circle cx="535.5" cy="156.2" r="2.4" fill="rgba(252,193,10,0.30)"/>
<circle cx="541.2" cy="155.2" r="2.4" fill="rgba(252,193,10,0.30)"/>
<circle cx="535.5" cy="162.9" r="2.4" fill="rgba(252,193,10,0.30)"/>
<circle cx="541.2" cy="160.2" r="2.4" fill="rgba(252,193,10,0.30)"/>
<circle cx="541.2" cy="166.3" r="2.4" fill="rgba(252,193,10,0.30)"/>
<circle cx="576.1" cy="156.8" r="2.4" fill="rgba(252,193,10,0.30)"/>
<circle cx="599.5" cy="82.6" r="2.4" fill="rgba(252,193,10,0.30)"/>
<circle cx="605.3" cy="83.0" r="2.4" fill="rgba(252,193,10,0.30)"/>
<circle cx="617.0" cy="68.6" r="2.4" fill="rgba(252,193,10,0.30)"/>
<circle cx="640.3" cy="57.1" r="2.4" fill="rgba(252,193,10,0.30)"/>
<circle cx="646.1" cy="69.2" r="2.4" fill="rgba(252,193,10,0.30)"/>
<circle cx="651.8" cy="39.5" r="2.4" fill="rgba(252,193,10,0.30)"/>
<circle cx="646.1" cy="95.0" r="2.4" fill="rgba(252,193,10,0.30)"/>
<circle cx="651.8" cy="98.9" r="2.4" fill="rgba(252,193,10,0.30)"/>
<circle cx="617.0" cy="104.6" r="2.4" fill="rgba(252,193,10,0.30)"/>
<circle cx="605.3" cy="112.7" r="2.4" fill="rgba(252,193,10,0.30)"/>
<circle cx="617.0" cy="119.4" r="2.4" fill="rgba(252,193,10,0.30)"/>
<circle cx="651.8" cy="108.5" r="2.4" fill="rgba(252,193,10,0.30)"/>
<circle cx="651.8" cy="116.5" r="2.4" fill="rgba(252,193,10,0.30)"/>
<circle cx="651.8" cy="120.0" r="2.4" fill="rgba(252,193,10,0.30)"/>
<circle cx="646.1" cy="125.7" r="2.4" fill="rgba(252,193,10,0.30)"/>
<circle cx="651.8" cy="162.9" r="2.4" fill="rgba(252,193,10,0.30)"/>
<circle cx="681.2" cy="88.7" r="2.4" fill="rgba(252,193,10,0.30)"/>
<circle cx="686.9" cy="95.4" r="2.4" fill="rgba(252,193,10,0.30)"/>
<circle cx="686.9" cy="106.5" r="2.4" fill="rgba(252,193,10,0.30)"/>
<circle cx="691.7" cy="105.6" r="2.4" fill="rgba(252,193,10,0.30)"/>
<circle cx="691.7" cy="111.3" r="2.4" fill="rgba(252,193,10,0.30)"/>
<circle cx="691.7" cy="118.0" r="2.4" fill="rgba(252,193,10,0.30)"/>
<circle cx="691.7" cy="123.8" r="2.4" fill="rgba(252,193,10,0.30)"/>
<circle cx="698.8" cy="51.3" r="2.4" fill="rgba(252,193,10,0.30)"/>
<circle cx="681.2" cy="167.3" r="2.4" fill="rgba(252,193,10,0.30)"/>
<circle cx="686.9" cy="168.3" r="2.4" fill="rgba(252,193,10,0.30)"/>
<circle cx="523.8" cy="103.1" r="2.4" fill="rgba(252,193,10,0.30)"/>
<circle cx="686.9" cy="74.9" r="2.4" fill="rgba(252,193,10,0.30)"/>
<circle cx="581.9" cy="153.5" r="2.4" fill="rgba(252,193,10,0.30)"/>
<circle cx="547.0" cy="177.2" r="2.4" fill="rgba(205,12,16,0.30)"/>
<circle cx="547.0" cy="212.3" r="2.4" fill="rgba(205,12,16,0.30)"/>
<circle cx="547.0" cy="220.9" r="2.4" fill="rgba(205,12,16,0.30)"/>
<circle cx="547.0" cy="253.1" r="2.4" fill="rgba(205,12,16,0.30)"/>
<circle cx="570.4" cy="176.8" r="2.4" fill="rgba(205,12,16,0.30)"/>
<circle cx="570.4" cy="203.1" r="2.4" fill="rgba(205,12,16,0.30)"/>
<circle cx="570.4" cy="224.8" r="2.4" fill="rgba(205,12,16,0.30)"/>
<circle cx="581.9" cy="175.9" r="2.4" fill="rgba(205,12,16,0.30)"/>
<circle cx="581.9" cy="178.8" r="2.4" fill="rgba(205,12,16,0.30)"/>
<circle cx="581.9" cy="185.5" r="2.4" fill="rgba(205,12,16,0.30)"/>
<circle cx="581.9" cy="189.9" r="2.4" fill="rgba(205,12,16,0.30)"/>
<circle cx="581.9" cy="209.8" r="2.4" fill="rgba(205,12,16,0.30)"/>
<circle cx="581.9" cy="223.2" r="2.4" fill="rgba(205,12,16,0.30)"/>
<circle cx="581.9" cy="248.1" r="2.4" fill="rgba(205,12,16,0.30)"/>
<circle cx="581.9" cy="253.9" r="2.4" fill="rgba(205,12,16,0.30)"/>
<circle cx="581.9" cy="282.6" r="2.4" fill="rgba(205,12,16,0.30)"/>
<circle cx="593.8" cy="191.8" r="2.4" fill="rgba(205,12,16,0.30)"/>
<circle cx="593.8" cy="208.8" r="2.4" fill="rgba(205,12,16,0.30)"/>
<circle cx="630.8" cy="185.8" r="2.4" fill="rgba(205,12,16,0.30)"/>
<circle cx="640.3" cy="188.0" r="2.4" fill="rgba(205,12,16,0.30)"/>
<circle cx="645.1" cy="173.0" r="2.4" fill="rgba(205,12,16,0.30)"/>
<circle cx="645.1" cy="204.6" r="2.4" fill="rgba(205,12,16,0.30)"/>
<circle cx="630.8" cy="223.2" r="2.4" fill="rgba(205,12,16,0.30)"/>
<circle cx="686.9" cy="174.0" r="2.4" fill="rgba(205,12,16,0.30)"/>
<circle cx="686.9" cy="184.5" r="2.4" fill="rgba(205,12,16,0.30)"/>
<circle cx="686.9" cy="190.6" r="2.4" fill="rgba(205,12,16,0.30)"/>
<circle cx="686.9" cy="196.0" r="2.4" fill="rgba(205,12,16,0.30)"/>
<circle cx="686.9" cy="220.9" r="2.4" fill="rgba(205,12,16,0.30)"/>
<circle cx="686.9" cy="230.1" r="2.4" fill="rgba(205,12,16,0.30)"/>
<circle cx="686.9" cy="244.9" r="2.4" fill="rgba(205,12,16,0.30)"/>
<circle cx="686.9" cy="255.0" r="2.4" fill="rgba(205,12,16,0.30)"/>
<circle cx="633.6" cy="184.1" r="2.4" fill="rgba(252,193,10,0.30)"/>
<circle cx="651.8" cy="202.7" r="2.4" fill="rgba(252,193,10,0.30)"/>
<circle cx="651.8" cy="233.4" r="2.4" fill="rgba(252,193,10,0.30)"/>
<circle cx="657.6" cy="250.6" r="2.4" fill="rgba(252,193,10,0.30)"/>
<circle cx="691.7" cy="186.8" r="2.4" fill="rgba(252,193,10,0.30)"/>
<circle cx="691.7" cy="192.7" r="2.4" fill="rgba(252,193,10,0.30)"/>
<circle cx="691.7" cy="199.8" r="2.4" fill="rgba(252,193,10,0.30)"/>
<circle cx="691.7" cy="207.5" r="2.4" fill="rgba(252,193,10,0.30)"/>
<circle cx="691.7" cy="212.9" r="2.4" fill="rgba(252,193,10,0.30)"/>
<circle cx="691.7" cy="220.0" r="2.4" fill="rgba(252,193,10,0.30)"/>
<circle cx="691.7" cy="226.7" r="2.4" fill="rgba(252,193,10,0.30)"/>
<circle cx="686.9" cy="175.9" r="2.4" fill="rgba(252,193,10,0.30)"/>
<line x1="244.25" y1="332.4" x2="244.25" y2="13.5" stroke="#000" stroke-width="1.5" stroke-dasharray="4.15,4.15"/>
<line x1="395.60" y1="332.4" x2="395.60" y2="13.5" stroke="#000" stroke-width="1.5" stroke-dasharray="4.15,4.15"/>
<line x1="430.60" y1="332.4" x2="430.60" y2="13.5" stroke="#000" stroke-width="1.5" stroke-dasharray="4.15,4.15"/>
<line x1="593.75" y1="332.4" x2="593.75" y2="13.5" stroke="#000" stroke-width="1.5" stroke-dasharray="4.15,4.15"/>
<path d="M81.0,149.0 L82.0,149.2 L83.3,149.4 L84.9,149.6 L86.6,149.9 L88.3,150.2 L90.0,150.5 L91.5,150.8 L92.9,151.0 L94.3,151.3 L95.9,151.6 L97.7,152.0 L100.0,152.5 L102.8,153.2 L105.9,154.0 L109.4,154.8 L113.0,155.8 L116.6,156.7 L120.0,157.5 L123.3,158.3 L126.7,159.0 L130.0,159.8 L133.3,160.5 L136.7,161.3 L140.0,162.0 L143.3,162.8 L146.7,163.6 L150.0,164.3 L153.3,165.1 L156.7,165.8 L160.0,166.5 L163.4,167.1 L166.9,167.7 L170.4,168.2 L173.9,168.7 L177.1,169.1 L180.0,169.5 L182.5,169.8 L184.7,170.2 L186.7,170.4 L188.6,170.6 L190.7,170.8 L193.0,170.8 L195.6,170.7 L198.3,170.5 L201.1,170.3 L204.0,169.9 L206.9,169.6 L210.0,169.2 L213.2,168.8 L216.4,168.4 L219.8,167.9 L223.2,167.4 L226.6,167.0 L230.0,166.5 L233.3,166.0 L236.7,165.6 L240.0,165.1 L243.3,164.7 L246.7,164.2 L250.0,163.8 L253.1,163.3 L255.9,162.9 L258.8,162.4 L261.9,161.9 L265.5,161.4 L270.0,160.7 L275.7,159.9 L282.4,158.9 L289.7,157.8 L297.0,156.8 L304.0,155.7 L310.0,154.7 L315.2,153.7 L319.8,152.7 L324.1,151.7 L328.0,150.7 L331.6,149.9 L335.0,149.3 L337.8,148.9 L340.0,148.7 L341.9,148.7 L343.9,148.7 L346.5,148.7 L350.0,148.7 L354.6,148.7 L360.0,148.7 L365.9,148.7 L372.2,148.7 L378.6,148.7 L385.0,148.7 L391.4,148.6 L398.0,148.6 L404.7,148.5 L411.5,148.4 L418.3,148.2 L425.0,148.0 L431.7,147.7 L438.3,147.4 L445.0,147.1 L451.7,146.7 L458.3,146.3 L465.0,146.0 L471.7,145.7 L478.5,145.3 L485.3,145.0 L492.0,144.6 L498.6,144.3 L505.0,144.0 L511.0,143.8 L516.7,143.5 L522.2,143.4 L527.8,143.2 L533.6,143.0 L540.0,142.7 L547.0,142.4 L554.6,142.0 L562.5,141.7 L570.4,141.3 L578.0,140.9 L585.0,140.5 L591.5,140.1 L597.6,139.8 L603.4,139.4 L609.1,139.0 L614.6,138.5 L620.0,138.0 L625.3,137.3 L630.4,136.5 L635.3,135.6 L640.2,134.8 L645.1,134.0 L650.0,133.3 L655.0,132.8 L660.0,132.3 L665.0,132.0 L670.0,131.7 L675.0,131.3 L680.0,131.0 L685.3,130.6 L691.0,130.2 L696.6,129.9 L701.9,129.5 L706.3,129.2 L709.5,129.0 L709.5,161.0 L706.3,160.6 L701.9,160.0 L696.6,159.2 L691.0,158.5 L685.3,157.7 L680.0,157.0 L675.0,156.3 L670.0,155.6 L665.0,155.0 L660.0,154.3 L655.0,153.6 L650.0,153.0 L645.1,152.4 L640.2,151.7 L635.3,151.1 L630.4,150.5 L625.3,150.0 L620.0,149.5 L614.6,149.1 L609.1,148.8 L603.4,148.5 L597.6,148.3 L591.5,148.1 L585.0,148.0 L578.0,148.0 L570.4,148.0 L562.5,148.1 L554.6,148.3 L547.0,148.5 L540.0,148.8 L533.6,149.1 L527.8,149.4 L522.2,149.9 L516.7,150.3 L511.0,150.8 L505.0,151.3 L498.6,151.8 L492.0,152.4 L485.3,153.0 L478.5,153.6 L471.7,154.2 L465.0,154.7 L458.3,155.2 L451.7,155.6 L445.0,156.0 L438.3,156.5 L431.7,156.9 L425.0,157.3 L418.3,157.8 L411.5,158.4 L404.7,159.0 L398.0,159.6 L391.4,159.9 L385.0,160.0 L378.6,159.7 L372.2,159.2 L365.9,158.5 L360.0,157.7 L354.6,157.0 L350.0,156.5 L346.5,156.2 L343.9,156.0 L341.9,155.8 L340.0,155.8 L337.8,155.8 L335.0,156.0 L331.6,156.3 L328.0,156.7 L324.1,157.2 L319.8,157.8 L315.2,158.5 L310.0,159.3 L304.0,160.4 L297.0,161.7 L289.7,163.2 L282.4,164.6 L275.7,165.8 L270.0,166.7 L265.5,167.2 L261.9,167.4 L258.8,167.3 L255.9,167.3 L253.1,167.3 L250.0,167.5 L246.7,167.9 L243.3,168.5 L240.0,169.2 L236.7,169.8 L233.3,170.5 L230.0,171.0 L226.6,171.5 L223.2,171.9 L219.8,172.3 L216.4,172.7 L213.2,173.0 L210.0,173.3 L206.9,173.6 L204.0,173.8 L201.1,174.0 L198.3,174.2 L195.6,174.4 L193.0,174.5 L190.7,174.5 L188.6,174.5 L186.7,174.4 L184.7,174.3 L182.5,174.3 L180.0,174.5 L177.1,174.9 L173.9,175.4 L170.4,176.0 L166.9,176.7 L163.4,177.3 L160.0,178.0 L156.7,178.7 L153.3,179.4 L150.0,180.1 L146.7,180.8 L143.3,181.5 L140.0,182.0 L136.7,182.4 L133.3,182.8 L130.0,183.0 L126.7,183.2 L123.3,183.4 L120.0,183.5 L116.6,183.5 L113.0,183.5 L109.4,183.5 L105.9,183.4 L102.8,183.2 L100.0,183.0 L97.7,182.8 L95.9,182.6 L94.3,182.3 L92.9,181.9 L91.5,181.5 L90.0,181.0 L88.3,180.3 L86.6,179.4 L84.9,178.4 L83.3,177.4 L82.0,176.6 L81.0,176.0 Z" fill="#CD0C10"/>
<path d="M82.0,139.3 L83.8,139.4 L86.0,139.4 L88.0,139.4 L90.0,139.5 L92.0,139.9 L94.0,140.3 L96.0,140.7 L98.0,141.1 L100.0,141.6 L102.0,142.2 L104.0,142.8 L106.0,143.5 L108.0,144.2 L110.0,144.8 L112.0,145.5 L114.0,146.2 L116.0,146.8 L118.0,147.5 L120.0,148.1 L122.0,148.8 L124.0,149.5 L126.0,150.1 L128.0,150.8 L130.0,151.5 L132.0,152.1 L134.0,152.8 L136.0,153.5 L138.0,154.1 L140.0,154.8 L142.0,155.6 L144.0,156.3 L146.0,157.1 L148.0,157.8 L150.0,158.6 L152.0,159.3 L154.0,160.1 L156.0,160.9 L158.0,161.6 L160.0,162.3 L162.0,162.9 L164.0,163.4 L166.0,164.0 L168.0,164.5 L170.0,165.0 L172.0,165.6 L174.0,166.1 L176.0,166.6 L178.0,167.2 L180.0,167.6 L182.0,168.0 L184.0,168.3 L186.0,168.5 L188.2,168.8 L190.0,169.1" fill="none" stroke="#CD0C10" stroke-width="0.90"/>
<path d="M82.0,143.7 L83.8,143.8 L86.0,144.0 L88.0,144.2 L90.0,144.4 L92.0,144.8 L94.0,145.2 L96.0,145.6 L98.0,146.0 L100.0,146.5 L102.0,147.0 L104.0,147.6 L106.0,148.2 L108.0,148.8 L110.0,149.3 L112.0,149.9 L114.0,150.5 L116.0,151.1 L118.0,151.7 L120.0,152.3 L122.0,152.9 L124.0,153.4 L126.0,154.0 L128.0,154.6 L130.0,155.2 L132.0,155.7 L134.0,156.3 L136.0,156.9 L138.0,157.4 L140.0,158.0 L142.0,158.6 L144.0,159.2 L146.0,159.9 L148.0,160.5 L150.0,161.1 L152.0,161.7 L154.0,162.3 L156.0,163.0 L158.0,163.6 L160.0,164.1 L162.0,164.6 L164.0,165.1 L166.0,165.5 L168.0,165.9 L170.0,166.3 L172.0,166.8 L174.0,167.2 L176.0,167.7 L178.0,168.1 L180.0,168.4 L182.0,168.7 L184.0,169.0 L186.0,169.2 L188.2,169.5 L190.0,169.7" fill="none" stroke="#CD0C10" stroke-width="0.90"/>
<path d="M84.0,183.3 L85.8,184.5 L88.0,185.8 L90.0,186.8 L92.0,187.5 L94.0,188.0 L96.0,188.3 L98.0,188.8 L100.0,189.1 L102.0,189.1 L104.0,189.0 L106.0,189.0 L108.0,188.9 L110.0,188.9 L112.0,188.9 L114.0,188.8 L116.0,188.8 L118.0,188.8 L120.0,188.7 L122.0,188.5 L124.0,188.2 L126.0,187.9 L128.0,187.6 L130.0,187.3 L132.0,187.1 L134.0,186.8 L136.0,186.5 L138.2,186.2 L140.0,186.0" fill="none" stroke="#CD0C10" stroke-width="0.90"/>
<path d="M648.0,133.5 Q678.5,130.0 709.0,126.5" fill="none" stroke="#CD0C10" stroke-width="0.80"/>
<path d="M625.0,150.0 Q667.0,157.8 709.0,168.5" fill="none" stroke="#CD0C10" stroke-width="0.80"/>
<path d="M625.0,150.0 Q665.5,156.0 706.0,165.0" fill="none" stroke="#CD0C10" stroke-width="0.80"/>
<path d="M81.0,199.0 L82.0,198.9 L83.3,198.8 L84.9,198.7 L86.6,198.5 L88.3,198.3 L90.0,198.0 L91.5,197.6 L92.9,197.2 L94.3,196.8 L95.9,196.2 L97.7,195.6 L100.0,195.0 L102.8,194.3 L105.9,193.4 L109.4,192.6 L113.0,191.7 L116.6,190.8 L120.0,190.0 L123.3,189.3 L126.7,188.6 L130.0,188.0 L133.3,187.4 L136.7,186.7 L140.0,186.0 L143.3,185.2 L146.7,184.4 L150.0,183.6 L153.3,182.7 L156.7,181.8 L160.0,181.0 L163.4,180.2 L166.9,179.3 L170.4,178.4 L173.9,177.6 L177.1,176.8 L180.0,176.0 L182.6,175.3 L185.1,174.6 L187.3,173.9 L189.4,173.2 L191.3,172.6 L193.0,172.0 L194.5,171.4 L195.7,170.9 L196.7,170.4 L197.7,169.9 L198.7,169.3 L200.0,168.8 L201.4,168.3 L202.7,167.7 L204.2,167.1 L205.8,166.6 L207.7,166.0 L210.0,165.4 L212.8,164.8 L215.9,164.1 L219.4,163.5 L223.0,162.8 L226.6,162.2 L230.0,161.5 L233.3,160.8 L236.7,160.1 L240.0,159.4 L243.3,158.7 L246.7,158.1 L250.0,157.5 L253.1,157.0 L255.9,156.6 L258.8,156.2 L261.9,155.8 L265.5,155.3 L270.0,154.7 L275.7,153.9 L282.6,153.0 L290.0,152.1 L297.4,151.1 L304.3,150.1 L310.0,149.3 L314.5,148.6 L318.1,147.9 L321.2,147.2 L324.1,146.6 L326.9,146.0 L330.0,145.3 L333.2,144.7 L336.1,144.1 L339.1,143.5 L342.2,142.9 L345.8,142.2 L350.0,141.3 L354.9,140.2 L360.4,138.9 L366.2,137.6 L372.4,136.2 L378.7,135.0 L385.0,134.0 L391.4,133.3 L398.0,132.8 L404.7,132.5 L411.5,132.2 L418.3,131.8 L425.0,131.3 L431.7,130.6 L438.3,129.8 L445.0,129.0 L451.7,128.2 L458.3,127.4 L465.0,126.7 L471.7,126.1 L478.5,125.6 L485.3,125.2 L492.0,124.7 L498.6,124.4 L505.0,124.0 L511.0,123.6 L516.7,123.3 L522.2,123.0 L527.8,122.7 L533.6,122.6 L540.0,122.5 L547.0,122.5 L554.6,122.7 L562.5,122.9 L570.4,123.2 L578.0,123.5 L585.0,124.0 L591.6,124.6 L598.0,125.3 L604.1,126.2 L609.8,127.0 L615.2,127.8 L620.0,128.5 L624.3,129.1 L628.0,129.6 L631.2,130.1 L634.3,130.6 L637.1,131.0 L640.0,131.5 L642.7,131.9 L645.2,132.2 L647.5,132.6 L649.8,132.9 L652.3,133.4 L655.0,134.0 L658.3,134.9 L662.0,136.0 L665.9,137.2 L669.6,138.3 L672.8,139.3 L675.0,140.0 L675.0,141.2 L672.8,141.2 L669.6,141.2 L665.9,141.3 L662.0,141.2 L658.3,141.2 L655.0,141.0 L652.3,140.7 L649.8,140.4 L647.5,139.9 L645.2,139.5 L642.7,139.0 L640.0,138.5 L637.1,138.1 L634.3,137.6 L631.2,137.2 L628.0,136.7 L624.3,136.2 L620.0,135.5 L615.2,134.7 L609.8,133.7 L604.1,132.7 L598.0,131.6 L591.6,130.7 L585.0,130.0 L578.0,129.5 L570.4,129.1 L562.5,128.9 L554.6,128.7 L547.0,128.6 L540.0,128.5 L533.6,128.4 L527.8,128.4 L522.2,128.3 L516.7,128.4 L511.0,128.5 L505.0,128.7 L498.6,129.0 L492.0,129.3 L485.3,129.7 L478.5,130.2 L471.7,130.7 L465.0,131.3 L458.3,132.0 L451.7,132.7 L445.0,133.6 L438.3,134.4 L431.7,135.2 L425.0,136.0 L418.3,136.7 L411.5,137.3 L404.7,137.9 L398.0,138.5 L391.4,139.2 L385.0,140.0 L378.7,140.9 L372.4,142.0 L366.2,143.0 L360.4,144.1 L354.9,145.1 L350.0,146.0 L345.8,146.7 L342.2,147.3 L339.1,147.8 L336.1,148.2 L333.2,148.7 L330.0,149.3 L326.9,149.9 L324.1,150.5 L321.2,151.2 L318.1,151.8 L314.5,152.5 L310.0,153.3 L304.3,154.2 L297.4,155.1 L290.0,156.1 L282.6,157.1 L275.7,158.0 L270.0,158.7 L265.5,159.2 L261.9,159.6 L258.8,159.8 L255.9,160.1 L253.1,160.4 L250.0,160.8 L246.7,161.4 L243.3,162.1 L240.0,162.8 L236.7,163.6 L233.3,164.3 L230.0,165.0 L226.6,165.7 L223.0,166.3 L219.4,166.9 L215.9,167.5 L212.8,168.1 L210.0,168.8 L207.7,169.3 L205.8,169.9 L204.2,170.4 L202.7,170.9 L201.4,171.5 L200.0,172.2 L198.7,172.9 L197.7,173.7 L196.7,174.5 L195.7,175.4 L194.5,176.4 L193.0,177.5 L191.3,178.8 L189.4,180.3 L187.3,181.9 L185.1,183.6 L182.6,185.3 L180.0,187.0 L177.1,188.8 L173.9,190.6 L170.4,192.5 L166.9,194.4 L163.4,196.3 L160.0,198.0 L156.7,199.6 L153.3,201.1 L150.0,202.6 L146.7,204.1 L143.3,205.5 L140.0,207.0 L136.7,208.5 L133.3,210.1 L130.0,211.7 L126.7,213.2 L123.3,214.7 L120.0,216.0 L116.6,217.2 L113.0,218.3 L109.4,219.4 L105.9,220.3 L102.8,221.2 L100.0,222.0 L97.7,222.7 L95.9,223.3 L94.3,223.8 L92.9,224.2 L91.5,224.6 L90.0,225.0 L88.3,225.4 L86.6,225.7 L84.9,225.9 L83.3,226.2 L82.0,226.4 L81.0,226.5 Z" fill="#FCC10A"/>
<path d="M648.0,136.0 Q678.5,142.5 709.0,147.0" fill="none" stroke="#FCC10A" stroke-width="0.90"/>
<path d="M648.0,136.0 Q678.5,144.2 709.0,150.5" fill="none" stroke="#FCC10A" stroke-width="0.90"/>
<path d="M648.0,136.0 Q678.5,145.5 709.0,153.0" fill="none" stroke="#FCC10A" stroke-width="0.90"/>
<path d="M648.0,136.0 Q674.0,146.0 700.0,154.0" fill="none" stroke="#FCC10A" stroke-width="0.90"/>
<path d="M648.0,136.0 Q678.5,147.0 709.0,156.0" fill="none" stroke="#FCC10A" stroke-width="0.90"/>
<path d="M95.27,17.09 L98.11,15.39 L102.09,14.53 L105.50,13.40 L108.91,14.25 L112.32,15.39 L115.73,16.52 L113.45,17.66 L111.75,18.80 L111.47,22.20 L111.75,25.61 L112.89,30.73 L113.17,36.41 L112.32,42.09 L110.05,46.64 L107.77,48.91 L107.20,53.45 L106.64,58.00 L107.77,62.55 L104.36,63.11 L103.23,58.00 L103.80,48.91 L100.39,48.34 L98.68,53.45 L97.55,59.14 L97.55,62.55 L93.57,62.55 L93.57,58.00 L94.70,51.18 L94.14,47.20 L88.45,47.20 L86.18,48.91 L85.61,53.45 L86.75,56.86 L89.02,59.70 L87.32,60.84 L81.07,61.41 L79.36,58.00 L77.66,50.61 L77.09,44.93 L75.39,39.25 L74.53,33.57 L74.82,26.75 L77.66,23.91 L82.20,21.64 L86.75,21.35 L92.43,22.20 L99.25,23.34 L99.82,18.23 Z" fill="#CEDA57" stroke="#CEDA57" stroke-width="0.6" stroke-linejoin="round"/>
<line x1="50.30" y1="355.30" x2="50.30" y2="678.50" stroke="#333" stroke-width="1.30"/>
<line x1="49.65" y1="677.75" x2="741.70" y2="677.75" stroke="#555" stroke-width="1.50"/>
<line x1="47.5" y1="421.2" x2="50.3" y2="421.2" stroke="#333" stroke-width="1.1"/>
<text x="45.3" y="425.2" font-size="17.0" fill="#4D4D4D" text-anchor="end">1.7</text>
<line x1="47.5" y1="488.6" x2="50.3" y2="488.6" stroke="#333" stroke-width="1.1"/>
<text x="45.3" y="492.6" font-size="17.0" fill="#4D4D4D" text-anchor="end">1.6</text>
<line x1="47.5" y1="556.2" x2="50.3" y2="556.2" stroke="#333" stroke-width="1.1"/>
<text x="45.3" y="560.2" font-size="17.0" fill="#4D4D4D" text-anchor="end">1.5</text>
<line x1="47.5" y1="623.7" x2="50.3" y2="623.7" stroke="#333" stroke-width="1.1"/>
<text x="45.3" y="627.7" font-size="17.0" fill="#4D4D4D" text-anchor="end">1.4</text>
<line x1="221.5" y1="677.8" x2="221.5" y2="680.5" stroke="#333" stroke-width="1.1"/>
<line x1="454.3" y1="677.8" x2="454.3" y2="680.5" stroke="#333" stroke-width="1.1"/>
<line x1="687.2" y1="677.8" x2="687.2" y2="680.5" stroke="#333" stroke-width="1.1"/>
<text x="228.1" y="696.0" font-size="17.0" fill="#4D4D4D" text-anchor="middle">−500</text>
<text x="453.9" y="696.0" font-size="17.0" fill="#4D4D4D" text-anchor="middle">0</text>
<text x="691.0" y="696.0" font-size="17.0" fill="#4D4D4D" text-anchor="middle">500</text>
<text x="164.7" y="668.7" font-size="18.0" fill="#000" text-anchor="start" font-style="italic">IA1</text>
<text x="320.9" y="668.7" font-size="18.0" fill="#000" text-anchor="start" font-style="italic">IA2</text>
<text x="399.9" y="668.7" font-size="18.0" fill="#000" text-anchor="start" font-style="italic">LR</text>
<text x="490.9" y="668.7" font-size="18.0" fill="#000" text-anchor="start" font-style="italic">RE</text>
<text x="641.7" y="668.7" font-size="18.0" fill="#000" text-anchor="start" font-style="italic">LA</text>
<circle cx="174.6" cy="376.5" r="2.4" fill="rgba(205,12,16,0.30)"/>
<circle cx="174.6" cy="392.0" r="2.4" fill="rgba(205,12,16,0.30)"/>
<circle cx="174.6" cy="409.2" r="2.4" fill="rgba(205,12,16,0.30)"/>
<circle cx="174.6" cy="427.3" r="2.4" fill="rgba(205,12,16,0.30)"/>
<circle cx="174.6" cy="450.8" r="2.4" fill="rgba(205,12,16,0.30)"/>
<circle cx="174.6" cy="453.7" r="2.4" fill="rgba(205,12,16,0.30)"/>
<circle cx="174.6" cy="467.1" r="2.4" fill="rgba(205,12,16,0.30)"/>
<circle cx="203.7" cy="420.6" r="2.4" fill="rgba(205,12,16,0.30)"/>
<circle cx="205.3" cy="482.1" r="2.4" fill="rgba(205,12,16,0.30)"/>
<circle cx="221.6" cy="429.4" r="2.4" fill="rgba(205,12,16,0.30)"/>
<circle cx="221.6" cy="435.5" r="2.4" fill="rgba(205,12,16,0.30)"/>
<circle cx="221.6" cy="445.7" r="2.4" fill="rgba(205,12,16,0.30)"/>
<circle cx="221.6" cy="447.0" r="2.4" fill="rgba(205,12,16,0.30)"/>
<circle cx="227.3" cy="448.0" r="2.4" fill="rgba(205,12,16,0.30)"/>
<circle cx="233.1" cy="449.9" r="2.4" fill="rgba(205,12,16,0.30)"/>
<circle cx="221.6" cy="461.0" r="2.4" fill="rgba(205,12,16,0.30)"/>
<circle cx="221.6" cy="466.8" r="2.4" fill="rgba(205,12,16,0.30)"/>
<circle cx="221.6" cy="487.3" r="2.4" fill="rgba(205,12,16,0.30)"/>
<circle cx="221.6" cy="513.7" r="2.4" fill="rgba(205,12,16,0.30)"/>
<circle cx="267.9" cy="402.5" r="2.4" fill="rgba(205,12,16,0.30)"/>
<circle cx="267.9" cy="451.8" r="2.4" fill="rgba(205,12,16,0.30)"/>
<circle cx="267.9" cy="473.8" r="2.4" fill="rgba(205,12,16,0.30)"/>
<circle cx="267.9" cy="370.0" r="2.4" fill="rgba(252,193,10,0.30)"/>
<circle cx="262.2" cy="375.7" r="2.4" fill="rgba(252,193,10,0.30)"/>
<circle cx="221.6" cy="421.5" r="2.4" fill="rgba(252,193,10,0.30)"/>
<circle cx="250.3" cy="427.3" r="2.4" fill="rgba(252,193,10,0.30)"/>
<circle cx="267.9" cy="433.6" r="2.4" fill="rgba(252,193,10,0.30)"/>
<circle cx="267.9" cy="447.0" r="2.4" fill="rgba(252,193,10,0.30)"/>
<circle cx="250.3" cy="457.0" r="2.4" fill="rgba(252,193,10,0.30)"/>
<circle cx="209.5" cy="467.5" r="2.4" fill="rgba(252,193,10,0.30)"/>
<circle cx="273.7" cy="470.0" r="2.4" fill="rgba(252,193,10,0.30)"/>
<circle cx="267.9" cy="481.5" r="2.4" fill="rgba(252,193,10,0.30)"/>
<circle cx="238.8" cy="507.0" r="2.4" fill="rgba(252,193,10,0.30)"/>
<circle cx="250.3" cy="509.9" r="2.4" fill="rgba(252,193,10,0.30)"/>
<circle cx="256.1" cy="514.1" r="2.4" fill="rgba(252,193,10,0.30)"/>
<circle cx="273.3" cy="513.1" r="2.4" fill="rgba(252,193,10,0.30)"/>
<circle cx="122.5" cy="543.8" r="2.4" fill="rgba(205,12,16,0.30)"/>
<circle cx="174.6" cy="548.5" r="2.4" fill="rgba(205,12,16,0.30)"/>
<circle cx="174.6" cy="556.8" r="2.4" fill="rgba(205,12,16,0.30)"/>
<circle cx="174.6" cy="577.7" r="2.4" fill="rgba(205,12,16,0.30)"/>
<circle cx="206.2" cy="554.9" r="2.4" fill="rgba(205,12,16,0.30)"/>
<circle cx="221.6" cy="516.0" r="2.4" fill="rgba(205,12,16,0.30)"/>
<circle cx="221.6" cy="518.8" r="2.4" fill="rgba(205,12,16,0.30)"/>
<circle cx="221.6" cy="525.0" r="2.4" fill="rgba(205,12,16,0.30)"/>
<circle cx="221.6" cy="527.5" r="2.4" fill="rgba(205,12,16,0.30)"/>
<circle cx="221.6" cy="536.1" r="2.4" fill="rgba(205,12,16,0.30)"/>
<circle cx="221.6" cy="567.1" r="2.4" fill="rgba(205,12,16,0.30)"/>
<circle cx="221.6" cy="580.6" r="2.4" fill="rgba(205,12,16,0.30)"/>
<circle cx="215.4" cy="594.0" r="2.4" fill="rgba(205,12,16,0.30)"/>
<circle cx="221.6" cy="594.0" r="2.4" fill="rgba(205,12,16,0.30)"/>
<circle cx="221.6" cy="594.0" r="2.4" fill="rgba(205,12,16,0.30)"/>
<circle cx="267.9" cy="530.3" r="2.4" fill="rgba(205,12,16,0.30)"/>
<circle cx="267.9" cy="539.9" r="2.4" fill="rgba(205,12,16,0.30)"/>
<circle cx="267.9" cy="541.5" r="2.4" fill="rgba(205,12,16,0.30)"/>
<circle cx="262.2" cy="550.1" r="2.4" fill="rgba(205,12,16,0.30)"/>
<circle cx="267.9" cy="558.1" r="2.4" fill="rgba(205,12,16,0.30)"/>
<circle cx="262.2" cy="605.5" r="2.4" fill="rgba(205,12,16,0.30)"/>
<circle cx="174.6" cy="589.2" r="2.4" fill="rgba(252,193,10,0.30)"/>
<circle cx="227.3" cy="530.0" r="2.4" fill="rgba(252,193,10,0.30)"/>
<circle cx="238.8" cy="534.7" r="2.4" fill="rgba(252,193,10,0.30)"/>
<circle cx="256.4" cy="541.8" r="2.4" fill="rgba(252,193,10,0.30)"/>
<circle cx="256.4" cy="516.0" r="2.4" fill="rgba(252,193,10,0.30)"/>
<circle cx="262.2" cy="516.9" r="2.4" fill="rgba(252,193,10,0.30)"/>
<circle cx="262.2" cy="524.0" r="2.4" fill="rgba(252,193,10,0.30)"/>
<circle cx="296.9" cy="404.8" r="2.4" fill="rgba(205,12,16,0.30)"/>
<circle cx="326.0" cy="413.1" r="2.4" fill="rgba(205,12,16,0.30)"/>
<circle cx="300.5" cy="441.3" r="2.4" fill="rgba(205,12,16,0.30)"/>
<circle cx="296.9" cy="448.9" r="2.4" fill="rgba(205,12,16,0.30)"/>
<circle cx="296.9" cy="455.2" r="2.4" fill="rgba(205,12,16,0.30)"/>
<circle cx="296.9" cy="460.4" r="2.4" fill="rgba(205,12,16,0.30)"/>
<circle cx="296.9" cy="461.8" r="2.4" fill="rgba(205,12,16,0.30)"/>
<circle cx="326.0" cy="443.6" r="2.4" fill="rgba(205,12,16,0.30)"/>
<circle cx="326.0" cy="455.6" r="2.4" fill="rgba(205,12,16,0.30)"/>
<circle cx="326.0" cy="461.0" r="2.4" fill="rgba(205,12,16,0.30)"/>
<circle cx="337.9" cy="457.0" r="2.4" fill="rgba(205,12,16,0.30)"/>
<circle cx="337.9" cy="473.3" r="2.4" fill="rgba(205,12,16,0.30)"/>
<circle cx="285.4" cy="477.7" r="2.4" fill="rgba(205,12,16,0.30)"/>
<circle cx="356.3" cy="453.3" r="2.4" fill="rgba(205,12,16,0.30)"/>
<circle cx="356.3" cy="479.6" r="2.4" fill="rgba(205,12,16,0.30)"/>
<circle cx="385.0" cy="433.2" r="2.4" fill="rgba(205,12,16,0.30)"/>
<circle cx="385.0" cy="466.2" r="2.4" fill="rgba(205,12,16,0.30)"/>
<circle cx="384.1" cy="467.7" r="2.4" fill="rgba(205,12,16,0.30)"/>
<circle cx="384.1" cy="475.8" r="2.4" fill="rgba(205,12,16,0.30)"/>
<circle cx="385.4" cy="478.6" r="2.4" fill="rgba(205,12,16,0.30)"/>
<circle cx="407.9" cy="433.2" r="2.4" fill="rgba(205,12,16,0.30)"/>
<circle cx="413.6" cy="472.3" r="2.4" fill="rgba(205,12,16,0.30)"/>
<circle cx="407.9" cy="479.2" r="2.4" fill="rgba(205,12,16,0.30)"/>
<circle cx="454.0" cy="439.3" r="2.4" fill="rgba(205,12,16,0.30)"/>
<circle cx="454.0" cy="459.7" r="2.4" fill="rgba(205,12,16,0.30)"/>
<circle cx="489.3" cy="440.3" r="2.4" fill="rgba(205,12,16,0.30)"/>
<circle cx="489.3" cy="454.7" r="2.4" fill="rgba(205,12,16,0.30)"/>
<circle cx="489.3" cy="458.9" r="2.4" fill="rgba(205,12,16,0.30)"/>
<circle cx="495.1" cy="448.5" r="2.4" fill="rgba(205,12,16,0.30)"/>
<circle cx="454.0" cy="512.6" r="2.4" fill="rgba(205,12,16,0.30)"/>
<circle cx="361.1" cy="410.6" r="2.4" fill="rgba(252,193,10,0.30)"/>
<circle cx="361.1" cy="421.1" r="2.4" fill="rgba(252,193,10,0.30)"/>
<circle cx="326.0" cy="429.8" r="2.4" fill="rgba(252,193,10,0.30)"/>
<circle cx="302.6" cy="436.1" r="2.4" fill="rgba(252,193,10,0.30)"/>
<circle cx="361.1" cy="437.0" r="2.4" fill="rgba(252,193,10,0.30)"/>
<circle cx="361.1" cy="440.7" r="2.4" fill="rgba(252,193,10,0.30)"/>
<circle cx="296.9" cy="446.6" r="2.4" fill="rgba(252,193,10,0.30)"/>
<circle cx="302.6" cy="454.7" r="2.4" fill="rgba(252,193,10,0.30)"/>
<circle cx="366.8" cy="450.5" r="2.4" fill="rgba(252,193,10,0.30)"/>
<circle cx="372.6" cy="450.8" r="2.4" fill="rgba(252,193,10,0.30)"/>
<circle cx="372.6" cy="453.1" r="2.4" fill="rgba(252,193,10,0.30)"/>
<circle cx="355.1" cy="458.9" r="2.4" fill="rgba(252,193,10,0.30)"/>
<circle cx="361.1" cy="463.9" r="2.4" fill="rgba(252,193,10,0.30)"/>
<circle cx="337.9" cy="468.7" r="2.4" fill="rgba(252,193,10,0.30)"/>
<circle cx="285.4" cy="473.3" r="2.4" fill="rgba(252,193,10,0.30)"/>
<circle cx="296.9" cy="480.6" r="2.4" fill="rgba(252,193,10,0.30)"/>
<circle cx="407.9" cy="438.4" r="2.4" fill="rgba(252,193,10,0.30)"/>
<circle cx="407.9" cy="461.4" r="2.4" fill="rgba(252,193,10,0.30)"/>
<circle cx="407.9" cy="474.2" r="2.4" fill="rgba(252,193,10,0.30)"/>
<circle cx="430.9" cy="453.1" r="2.4" fill="rgba(252,193,10,0.30)"/>
<circle cx="448.3" cy="458.9" r="2.4" fill="rgba(252,193,10,0.30)"/>
<circle cx="483.2" cy="456.6" r="2.4" fill="rgba(252,193,10,0.30)"/>
<circle cx="483.2" cy="458.5" r="2.4" fill="rgba(252,193,10,0.30)"/>
<circle cx="489.3" cy="436.1" r="2.4" fill="rgba(252,193,10,0.30)"/>
<circle cx="320.3" cy="488.2" r="2.4" fill="rgba(252,193,10,0.30)"/>
<circle cx="500.8" cy="492.1" r="2.4" fill="rgba(252,193,10,0.30)"/>
<circle cx="302.6" cy="513.7" r="2.4" fill="rgba(252,193,10,0.30)"/>
<circle cx="361.1" cy="513.1" r="2.4" fill="rgba(252,193,10,0.30)"/>
<circle cx="401.7" cy="512.8" r="2.4" fill="rgba(252,193,10,0.30)"/>
<circle cx="385.4" cy="518.3" r="2.4" fill="rgba(205,12,16,0.30)"/>
<circle cx="326.0" cy="528.0" r="2.4" fill="rgba(205,12,16,0.30)"/>
<circle cx="326.0" cy="528.0" r="2.4" fill="rgba(205,12,16,0.30)"/>
<circle cx="326.0" cy="533.8" r="2.4" fill="rgba(205,12,16,0.30)"/>
<circle cx="326.0" cy="536.7" r="2.4" fill="rgba(205,12,16,0.30)"/>
<circle cx="356.3" cy="529.8" r="2.4" fill="rgba(205,12,16,0.30)"/>
<circle cx="419.4" cy="521.1" r="2.4" fill="rgba(205,12,16,0.30)"/>
<circle cx="413.6" cy="527.1" r="2.4" fill="rgba(205,12,16,0.30)"/>
<circle cx="407.9" cy="536.1" r="2.4" fill="rgba(205,12,16,0.30)"/>
<circle cx="296.9" cy="548.5" r="2.4" fill="rgba(205,12,16,0.30)"/>
<circle cx="314.5" cy="550.8" r="2.4" fill="rgba(205,12,16,0.30)"/>
<circle cx="337.9" cy="547.0" r="2.4" fill="rgba(205,12,16,0.30)"/>
<circle cx="337.9" cy="556.8" r="2.4" fill="rgba(205,12,16,0.30)"/>
<circle cx="384.1" cy="563.3" r="2.4" fill="rgba(205,12,16,0.30)"/>
<circle cx="385.4" cy="574.0" r="2.4" fill="rgba(205,12,16,0.30)"/>
<circle cx="314.5" cy="573.1" r="2.4" fill="rgba(205,12,16,0.30)"/>
<circle cx="326.0" cy="579.8" r="2.4" fill="rgba(205,12,16,0.30)"/>
<circle cx="337.9" cy="599.3" r="2.4" fill="rgba(205,12,16,0.30)"/>
<circle cx="407.9" cy="571.0" r="2.4" fill="rgba(205,12,16,0.30)"/>
<circle cx="407.9" cy="583.0" r="2.4" fill="rgba(205,12,16,0.30)"/>
<circle cx="454.0" cy="573.5" r="2.4" fill="rgba(205,12,16,0.30)"/>
<circle cx="285.4" cy="516.9" r="2.4" fill="rgba(252,193,10,0.30)"/>
<circle cx="302.6" cy="515.0" r="2.4" fill="rgba(252,193,10,0.30)"/>
<circle cx="320.3" cy="524.0" r="2.4" fill="rgba(252,193,10,0.30)"/>
<circle cx="296.9" cy="535.7" r="2.4" fill="rgba(252,193,10,0.30)"/>
<circle cx="285.4" cy="541.8" r="2.4" fill="rgba(252,193,10,0.30)"/>
<circle cx="320.3" cy="537.0" r="2.4" fill="rgba(252,193,10,0.30)"/>
<circle cx="320.3" cy="553.0" r="2.4" fill="rgba(252,193,10,0.30)"/>
<circle cx="355.1" cy="538.4" r="2.4" fill="rgba(252,193,10,0.30)"/>
<circle cx="361.1" cy="540.5" r="2.4" fill="rgba(252,193,10,0.30)"/>
<circle cx="361.1" cy="543.2" r="2.4" fill="rgba(252,193,10,0.30)"/>
<circle cx="372.6" cy="548.2" r="2.4" fill="rgba(252,193,10,0.30)"/>
<circle cx="378.3" cy="548.2" r="2.4" fill="rgba(252,193,10,0.30)"/>
<circle cx="413.6" cy="534.2" r="2.4" fill="rgba(252,193,10,0.30)"/>
<circle cx="430.9" cy="539.9" r="2.4" fill="rgba(252,193,10,0.30)"/>
<circle cx="459.8" cy="535.5" r="2.4" fill="rgba(252,193,10,0.30)"/>
<circle cx="302.6" cy="619.1" r="2.4" fill="rgba(252,193,10,0.30)"/>
<circle cx="326.0" cy="634.2" r="2.4" fill="rgba(252,193,10,0.30)"/>
<circle cx="326.0" cy="662.6" r="2.4" fill="rgba(252,193,10,0.30)"/>
<circle cx="407.9" cy="581.7" r="2.4" fill="rgba(252,193,10,0.30)"/>
<circle cx="553.1" cy="412.9" r="2.4" fill="rgba(205,12,16,0.30)"/>
<circle cx="570.4" cy="425.5" r="2.4" fill="rgba(205,12,16,0.30)"/>
<circle cx="547.4" cy="439.0" r="2.4" fill="rgba(205,12,16,0.30)"/>
<circle cx="581.9" cy="449.9" r="2.4" fill="rgba(205,12,16,0.30)"/>
<circle cx="553.1" cy="457.2" r="2.4" fill="rgba(205,12,16,0.30)"/>
<circle cx="570.4" cy="465.2" r="2.4" fill="rgba(205,12,16,0.30)"/>
<circle cx="570.4" cy="469.1" r="2.4" fill="rgba(205,12,16,0.30)"/>
<circle cx="593.8" cy="400.4" r="2.4" fill="rgba(205,12,16,0.30)"/>
<circle cx="593.8" cy="463.9" r="2.4" fill="rgba(205,12,16,0.30)"/>
<circle cx="663.3" cy="455.1" r="2.4" fill="rgba(205,12,16,0.30)"/>
<circle cx="686.9" cy="426.9" r="2.4" fill="rgba(205,12,16,0.30)"/>
<circle cx="686.9" cy="449.3" r="2.4" fill="rgba(205,12,16,0.30)"/>
<circle cx="686.9" cy="454.3" r="2.4" fill="rgba(205,12,16,0.30)"/>
<circle cx="686.9" cy="462.3" r="2.4" fill="rgba(205,12,16,0.30)"/>
<circle cx="686.9" cy="468.7" r="2.4" fill="rgba(205,12,16,0.30)"/>
<circle cx="686.9" cy="472.9" r="2.4" fill="rgba(205,12,16,0.30)"/>
<circle cx="523.8" cy="496.5" r="2.4" fill="rgba(205,12,16,0.30)"/>
<circle cx="553.1" cy="507.4" r="2.4" fill="rgba(205,12,16,0.30)"/>
<circle cx="570.4" cy="489.2" r="2.4" fill="rgba(205,12,16,0.30)"/>
<circle cx="570.4" cy="504.5" r="2.4" fill="rgba(205,12,16,0.30)"/>
<circle cx="646.1" cy="412.1" r="2.4" fill="rgba(252,193,10,0.30)"/>
<circle cx="646.1" cy="423.4" r="2.4" fill="rgba(252,193,10,0.30)"/>
<circle cx="646.1" cy="427.3" r="2.4" fill="rgba(252,193,10,0.30)"/>
<circle cx="605.3" cy="430.3" r="2.4" fill="rgba(252,193,10,0.30)"/>
<circle cx="558.9" cy="451.2" r="2.4" fill="rgba(252,193,10,0.30)"/>
<circle cx="642.6" cy="455.6" r="2.4" fill="rgba(252,193,10,0.30)"/>
<circle cx="605.3" cy="469.4" r="2.4" fill="rgba(252,193,10,0.30)"/>
<circle cx="691.7" cy="439.7" r="2.4" fill="rgba(252,193,10,0.30)"/>
<circle cx="691.7" cy="443.6" r="2.4" fill="rgba(252,193,10,0.30)"/>
<circle cx="691.7" cy="467.7" r="2.4" fill="rgba(252,193,10,0.30)"/>
<circle cx="691.7" cy="471.5" r="2.4" fill="rgba(252,193,10,0.30)"/>
<circle cx="605.3" cy="498.8" r="2.4" fill="rgba(252,193,10,0.30)"/>
<circle cx="686.9" cy="421.5" r="2.4" fill="rgba(252,193,10,0.30)"/>
<circle cx="570.4" cy="516.5" r="2.4" fill="rgba(205,12,16,0.30)"/>
<circle cx="570.4" cy="560.6" r="2.4" fill="rgba(205,12,16,0.30)"/>
<circle cx="628.5" cy="560.6" r="2.4" fill="rgba(205,12,16,0.30)"/>
<circle cx="686.9" cy="542.4" r="2.4" fill="rgba(205,12,16,0.30)"/>
<circle cx="686.9" cy="560.6" r="2.4" fill="rgba(205,12,16,0.30)"/>
<circle cx="686.9" cy="562.5" r="2.4" fill="rgba(205,12,16,0.30)"/>
<circle cx="686.9" cy="587.8" r="2.4" fill="rgba(205,12,16,0.30)"/>
<circle cx="686.9" cy="610.3" r="2.4" fill="rgba(205,12,16,0.30)"/>
<circle cx="576.1" cy="536.7" r="2.4" fill="rgba(252,193,10,0.30)"/>
<circle cx="576.1" cy="574.0" r="2.4" fill="rgba(252,193,10,0.30)"/>
<circle cx="643.8" cy="544.1" r="2.4" fill="rgba(252,193,10,0.30)"/>
<circle cx="686.9" cy="556.2" r="2.4" fill="rgba(252,193,10,0.30)"/>
<circle cx="691.7" cy="575.4" r="2.4" fill="rgba(252,193,10,0.30)"/>
<circle cx="691.7" cy="583.4" r="2.4" fill="rgba(252,193,10,0.30)"/>
<line x1="244.40" y1="677.8" x2="244.40" y2="355.8" stroke="#000" stroke-width="1.5" stroke-dasharray="4.15,4.15"/>
<line x1="395.60" y1="677.8" x2="395.60" y2="355.8" stroke="#000" stroke-width="1.5" stroke-dasharray="4.15,4.15"/>
<line x1="431.10" y1="677.8" x2="431.10" y2="355.8" stroke="#000" stroke-width="1.5" stroke-dasharray="4.15,4.15"/>
<line x1="593.70" y1="677.8" x2="593.70" y2="355.8" stroke="#000" stroke-width="1.5" stroke-dasharray="4.15,4.15"/>
<path d="M82.5,454.0 L84.4,454.2 L86.9,454.4 L90.0,454.7 L93.3,455.1 L96.7,455.5 L100.0,456.0 L103.2,456.6 L106.5,457.2 L109.8,458.0 L113.2,458.8 L116.6,459.6 L120.0,460.5 L123.3,461.5 L126.7,462.5 L130.0,463.6 L133.3,464.7 L136.7,465.9 L140.0,467.0 L143.3,468.1 L146.7,469.3 L150.0,470.5 L153.3,471.6 L156.7,472.8 L160.0,474.0 L163.4,475.2 L166.9,476.4 L170.3,477.6 L173.7,478.8 L177.0,479.9 L180.0,481.0 L182.6,482.0 L184.8,482.9 L186.9,483.7 L189.1,484.5 L191.7,485.2 L195.0,486.0 L199.2,486.7 L204.1,487.3 L209.4,488.0 L214.8,488.6 L220.1,489.2 L225.0,490.0 L229.2,490.9 L233.0,492.0 L236.6,493.2 L240.4,494.2 L244.7,495.1 L250.0,495.8 L256.3,496.0 L263.5,495.8 L271.2,495.5 L279.3,495.2 L287.3,495.0 L295.0,495.0 L302.5,495.4 L310.0,495.9 L317.5,496.6 L325.0,497.3 L332.5,497.8 L340.0,498.0 L347.6,497.9 L355.2,497.6 L362.8,497.1 L370.4,496.5 L377.8,495.8 L385.0,495.0 L391.9,494.1 L398.5,492.9 L405.0,491.7 L411.5,490.4 L418.1,489.2 L425.0,488.0 L432.2,486.9 L439.6,485.8 L447.2,484.7 L454.8,483.7 L462.4,482.8 L470.0,482.0 L477.5,481.4 L485.0,480.9 L492.5,480.5 L500.0,480.1 L507.5,479.9 L515.0,479.8 L522.8,479.7 L530.9,479.8 L539.1,480.0 L546.9,480.2 L553.9,480.4 L560.0,480.5 L564.7,480.5 L568.3,480.4 L571.2,480.2 L573.9,480.1 L576.7,480.0 L580.0,480.0 L584.0,480.1 L588.3,480.3 L592.8,480.5 L597.2,480.8 L601.4,481.0 L605.0,481.2 L607.8,481.5 L609.8,481.6 L611.6,481.8 L613.5,482.1 L616.2,482.3 L620.0,482.7 L625.4,483.1 L632.0,483.6 L639.4,484.2 L646.9,484.8 L653.9,485.4 L660.0,486.0 L665.0,486.6 L669.4,487.2 L673.4,487.8 L677.2,488.5 L681.0,489.2 L685.0,490.0 L689.5,491.0 L694.3,492.1 L699.1,493.2 L703.5,494.4 L707.3,495.3 L710.0,496.0 L710.0,533.3 L707.3,532.6 L703.5,531.7 L699.1,530.6 L694.3,529.4 L689.5,528.2 L685.0,527.0 L681.0,526.0 L677.2,525.2 L673.4,524.3 L669.4,523.2 L665.0,521.9 L660.0,520.0 L653.9,517.4 L646.9,514.1 L639.4,510.5 L632.0,506.9 L625.4,503.7 L620.0,501.3 L616.2,499.8 L613.5,498.9 L611.6,498.5 L609.8,498.2 L607.8,497.7 L605.0,497.0 L601.4,495.9 L597.2,494.5 L592.8,493.1 L588.3,491.6 L584.0,490.3 L580.0,489.3 L576.7,488.5 L573.9,487.8 L571.2,487.2 L568.3,486.8 L564.7,486.6 L560.0,486.5 L553.9,486.6 L546.9,487.0 L539.1,487.4 L530.9,488.1 L522.8,488.8 L515.0,489.5 L507.5,490.3 L500.0,491.3 L492.5,492.3 L485.0,493.4 L477.5,494.5 L470.0,495.5 L462.4,496.5 L454.8,497.5 L447.2,498.5 L439.6,499.5 L432.2,500.5 L425.0,501.5 L418.1,502.6 L411.5,503.9 L405.0,505.2 L398.5,506.3 L391.9,507.2 L385.0,507.8 L377.8,507.7 L370.4,507.2 L362.8,506.5 L355.2,505.6 L347.6,505.0 L340.0,504.8 L332.5,505.0 L325.0,505.5 L317.5,506.2 L310.0,506.9 L302.5,507.5 L295.0,507.8 L287.3,507.7 L279.3,507.3 L271.2,506.9 L263.5,506.4 L256.3,505.9 L250.0,505.5 L244.7,505.2 L240.4,505.0 L236.6,504.9 L233.0,504.7 L229.2,504.6 L225.0,504.5 L220.1,504.4 L214.8,504.4 L209.4,504.4 L204.1,504.5 L199.2,504.5 L195.0,504.5 L191.7,504.5 L189.1,504.5 L186.9,504.4 L184.8,504.4 L182.6,504.4 L180.0,504.5 L177.0,504.6 L173.7,504.7 L170.3,504.9 L166.9,505.1 L163.4,505.3 L160.0,505.5 L156.7,505.7 L153.3,506.0 L150.0,506.3 L146.7,506.6 L143.3,506.8 L140.0,507.0 L136.7,507.1 L133.3,507.1 L130.0,507.2 L126.7,507.1 L123.3,507.1 L120.0,507.0 L116.6,506.9 L113.2,506.9 L109.8,506.9 L106.5,506.7 L103.2,506.5 L100.0,506.0 L96.7,505.2 L93.3,504.1 L90.0,502.9 L86.9,501.7 L84.4,500.7 L82.5,500.0 Z" fill="#CD0C10"/>
<path d="M185.0,485.0 Q139.0,469.2 93.0,447.5" fill="none" stroke="#CD0C10" stroke-width="0.90"/>
<path d="M185.0,485.0 Q134.0,471.0 83.0,451.0" fill="none" stroke="#CD0C10" stroke-width="0.90"/>
<path d="M185.0,485.0 Q150.0,470.5 115.0,450.0" fill="none" stroke="#CD0C10" stroke-width="0.90"/>
<path d="M185.0,485.0 Q156.5,471.2 128.0,451.5" fill="none" stroke="#CD0C10" stroke-width="0.90"/>
<path d="M190.0,501.0 Q144.0,508.2 98.0,513.5" fill="none" stroke="#CD0C10" stroke-width="0.90"/>
<path d="M190.0,501.0 Q149.0,507.2 108.0,511.5" fill="none" stroke="#CD0C10" stroke-width="0.90"/>
<path d="M190.0,501.0 Q156.0,506.2 122.0,509.5" fill="none" stroke="#CD0C10" stroke-width="0.90"/>
<path d="M593.0,490.0 Q648.0,514.5 703.0,551.0" fill="none" stroke="#CD0C10" stroke-width="0.80"/>
<path d="M593.0,490.0 Q649.0,512.5 705.0,547.0" fill="none" stroke="#CD0C10" stroke-width="0.80"/>
<path d="M593.0,490.0 Q649.5,510.5 706.0,543.0" fill="none" stroke="#CD0C10" stroke-width="0.80"/>
<path d="M593.0,490.0 Q649.5,509.0 706.0,540.0" fill="none" stroke="#CD0C10" stroke-width="0.80"/>
<path d="M593.0,490.0 Q649.5,507.5 706.0,537.0" fill="none" stroke="#CD0C10" stroke-width="0.80"/>
<path d="M593.0,490.0 Q645.5,511.5 698.0,545.0" fill="none" stroke="#CD0C10" stroke-width="0.80"/>
<path d="M593.0,490.0 Q643.5,510.5 694.0,543.0" fill="none" stroke="#CD0C10" stroke-width="0.80"/>
<path d="M82.5,479.0 L86.7,479.3 L92.5,479.7 L99.4,480.2 L106.7,480.8 L113.8,481.4 L120.0,482.0 L125.4,482.6 L130.6,483.4 L135.5,484.1 L140.3,484.9 L145.1,485.5 L150.0,486.0 L154.8,486.3 L159.4,486.5 L164.1,486.6 L168.9,486.7 L174.1,486.8 L180.0,487.0 L186.9,487.3 L194.6,487.7 L202.8,488.1 L210.9,488.4 L218.5,488.8 L225.0,489.0 L230.1,489.1 L234.1,489.1 L237.5,489.1 L240.9,489.0 L244.9,489.0 L250.0,489.0 L256.3,489.1 L263.5,489.3 L271.2,489.5 L279.3,489.6 L287.3,489.7 L295.0,489.8 L302.5,489.7 L310.0,489.5 L317.5,489.3 L325.0,489.1 L332.5,488.7 L340.0,488.2 L347.6,487.7 L355.2,487.0 L362.8,486.2 L370.4,485.4 L377.8,484.6 L385.0,483.8 L391.9,482.9 L398.5,482.0 L405.0,481.1 L411.5,480.2 L418.1,479.3 L425.0,478.2 L432.2,477.1 L439.6,475.9 L447.2,474.6 L454.8,473.4 L462.4,472.3 L470.0,471.5 L477.5,470.9 L485.0,470.6 L492.5,470.3 L500.0,470.2 L507.5,470.1 L515.0,470.0 L522.8,469.9 L530.9,469.9 L539.1,469.9 L546.9,469.9 L553.9,469.9 L560.0,470.0 L564.7,470.1 L568.3,470.2 L571.2,470.3 L573.9,470.4 L576.7,470.6 L580.0,470.7 L584.0,470.8 L588.3,470.9 L592.8,471.1 L597.2,471.2 L601.4,471.3 L605.0,471.5 L607.8,471.7 L609.8,471.8 L611.6,472.0 L613.5,472.2 L616.2,472.4 L620.0,472.7 L625.4,473.1 L632.0,473.6 L639.4,474.1 L646.9,474.6 L653.9,475.0 L660.0,475.3 L665.0,475.5 L669.4,475.5 L673.4,475.5 L677.2,475.4 L681.0,475.3 L685.0,475.3 L689.5,475.3 L694.3,475.3 L699.1,475.3 L703.5,475.3 L707.3,475.3 L710.0,475.3 L710.0,496.0 L707.3,495.3 L703.5,494.4 L699.1,493.2 L694.3,492.1 L689.5,491.0 L685.0,490.0 L681.0,489.2 L677.2,488.5 L673.4,487.8 L669.4,487.2 L665.0,486.6 L660.0,486.0 L653.9,485.4 L646.9,484.8 L639.4,484.2 L632.0,483.6 L625.4,483.1 L620.0,482.7 L616.2,482.3 L613.5,482.1 L611.6,481.8 L609.8,481.6 L607.8,481.5 L605.0,481.2 L601.4,481.0 L597.2,480.8 L592.8,480.5 L588.3,480.3 L584.0,480.1 L580.0,480.0 L576.7,480.0 L573.9,480.1 L571.2,480.2 L568.3,480.4 L564.7,480.5 L560.0,480.5 L553.9,480.4 L546.9,480.2 L539.1,480.0 L530.9,479.8 L522.8,479.7 L515.0,479.8 L507.5,479.9 L500.0,480.1 L492.5,480.5 L485.0,480.9 L477.5,481.4 L470.0,482.0 L462.4,482.8 L454.8,483.7 L447.2,484.7 L439.6,485.8 L432.2,486.9 L425.0,488.0 L418.1,489.2 L411.5,490.4 L405.0,491.7 L398.5,492.9 L391.9,494.1 L385.0,495.0 L377.8,495.8 L370.4,496.5 L362.8,497.1 L355.2,497.6 L347.6,497.9 L340.0,498.0 L332.5,497.8 L325.0,497.3 L317.5,496.6 L310.0,495.9 L302.5,495.4 L295.0,495.0 L287.3,494.9 L279.3,495.0 L271.2,495.2 L263.5,495.4 L256.3,495.6 L250.0,495.8 L244.9,495.8 L240.9,495.9 L237.5,495.9 L234.1,496.0 L230.1,496.0 L225.0,496.0 L218.5,496.0 L210.9,496.0 L202.8,496.0 L194.6,496.0 L186.9,496.0 L180.0,496.0 L174.1,496.0 L168.9,496.0 L164.1,496.1 L159.4,496.1 L154.8,496.1 L150.0,496.0 L145.1,495.9 L140.3,495.8 L135.5,495.6 L130.6,495.4 L125.4,495.2 L120.0,495.0 L113.8,494.7 L106.7,494.3 L99.4,493.9 L92.5,493.6 L86.7,493.2 L82.5,493.0 Z" fill="#FCC10A"/>
<path d="M164.0,500.0 L164.0,504.0 L165.0,515.0 L166.0,526.0 L169.0,534.5 L180.0,529.0 L198.0,518.5 L212.0,510.0 L226.0,502.0 L240.0,497.0 L240.0,494.0 L200.0,495.0 L164.0,497.0 Z" fill="#FCC10A"/>
<path d="M226.0,502.0 Q196.0,513.0 166.0,520.0" fill="none" stroke="#FCC10A" stroke-width="0.90"/>
<path d="M226.0,502.0 Q196.5,517.0 167.0,528.0" fill="none" stroke="#FCC10A" stroke-width="0.90"/>
<path d="M226.0,502.0 Q199.0,519.5 172.0,533.0" fill="none" stroke="#FCC10A" stroke-width="0.90"/>
<path d="M82.0,483.2 L83.8,483.3 L86.0,483.5 L88.0,483.6 L90.0,483.7 L92.0,483.9 L94.0,484.0 L96.0,484.2 L98.0,484.3 L100.0,484.5 L102.0,484.6 L104.0,484.7 L106.0,484.9 L108.0,485.0 L110.0,485.2 L112.0,485.3 L114.0,485.5 L116.0,485.6 L118.0,485.8 L120.0,485.9 L122.0,486.1 L124.0,486.3 L126.0,486.5 L128.0,486.7 L130.0,486.9 L132.0,487.1 L134.0,487.3 L136.0,487.6 L138.0,487.8 L140.0,488.0 L142.0,488.2 L144.0,488.4 L146.0,488.6 L148.0,488.8 L150.0,489.0 L152.0,489.1 L154.0,489.1 L156.0,489.1 L158.0,489.2 L160.0,489.2 L162.0,489.3 L164.0,489.3 L166.0,489.4 L168.0,489.4 L170.0,489.5 L172.0,489.5 L174.0,489.6 L176.0,489.6 L178.0,489.7 L180.0,489.7 L182.0,489.8 L184.0,489.8 L186.0,489.9 L188.0,489.9 L190.0,490.0 L192.0,490.1 L194.0,490.1 L196.2,490.2 L198.0,490.3" fill="none" stroke="#CD0C10" stroke-width="1.00"/>
<path d="M82.0,487.7 L83.8,487.8 L86.0,487.9 L88.0,488.0 L90.0,488.2 L92.0,488.3 L94.0,488.4 L96.0,488.5 L98.0,488.7 L100.0,488.8 L102.0,488.9 L104.0,489.0 L106.0,489.2 L108.0,489.3 L110.0,489.4 L112.0,489.6 L114.0,489.7 L116.0,489.8 L118.0,489.9 L120.0,490.1 L122.0,490.2 L124.0,490.3 L126.0,490.5 L128.0,490.6 L130.0,490.8 L132.0,490.9 L134.0,491.1 L136.0,491.2 L138.0,491.3 L140.0,491.5 L142.0,491.6 L144.0,491.8 L146.0,491.9 L148.0,492.1 L150.0,492.2 L152.0,492.2 L154.0,492.3 L156.0,492.3 L158.0,492.3 L160.0,492.3 L162.0,492.4 L164.0,492.4 L166.0,492.4 L168.0,492.4 L170.0,492.5 L172.0,492.5 L174.0,492.5 L176.0,492.5 L178.0,492.6 L180.0,492.6 L182.0,492.6 L184.0,492.6 L186.0,492.7 L188.0,492.7 L190.0,492.7 L192.0,492.8 L194.0,492.8 L196.2,492.9 L198.0,492.9" fill="none" stroke="#CD0C10" stroke-width="1.00"/>
<path d="M82.0,492.3 L83.8,492.4 L86.0,492.5 L88.0,492.6 L90.0,492.7 L92.0,492.8 L94.0,492.9 L96.0,493.0 L98.0,493.1 L100.0,493.3 L102.0,493.4 L104.0,493.5 L106.0,493.6 L108.0,493.7 L110.0,493.8 L112.0,493.9 L114.0,494.0 L116.0,494.1 L118.0,494.2 L120.0,494.3 L122.0,494.4 L124.0,494.5 L126.0,494.6 L128.0,494.7 L130.0,494.7 L132.0,494.8 L134.0,494.9 L136.0,495.0 L138.0,495.0 L140.0,495.1 L142.0,495.2 L144.0,495.3 L146.0,495.3 L148.0,495.4 L150.0,495.5 L152.0,495.5 L154.0,495.5 L156.0,495.5 L158.0,495.5 L160.0,495.5 L162.0,495.5 L164.0,495.5 L166.0,495.5 L168.0,495.5 L170.0,495.5 L172.0,495.5 L174.0,495.5 L176.0,495.5 L178.0,495.5 L180.0,495.6 L182.0,495.6 L184.0,495.6 L186.0,495.6 L188.0,495.6 L190.0,495.6 L192.0,495.6 L194.0,495.6 L196.2,495.6 L198.0,495.6" fill="none" stroke="#CD0C10" stroke-width="1.00"/>
<path d="M628.0,476.5 Q664.0,475.0 700.0,473.5" fill="none" stroke="#CD0C10" stroke-width="0.80"/>
<path d="M628.0,476.5 Q667.0,475.5 706.0,474.5" fill="none" stroke="#CD0C10" stroke-width="0.80"/>
<path d="M86.80,365.91 L86.51,361.36 L88.50,357.95 L92.48,355.68 L97.02,354.83 L101.00,355.97 L104.98,357.67 L109.52,357.39 L107.82,358.81 L103.27,358.52 L99.86,358.52 L102.70,361.36 L105.55,364.20 L109.52,365.34 L105.55,365.06 L102.14,363.64 L98.73,362.22 L94.75,361.36 L91.91,362.22 L91.34,364.77 L93.05,367.05 L98.16,369.89 L104.41,369.60 L112.36,371.02 L115.77,370.17 L123.16,370.45 L127.14,372.73 L130.55,375.57 L131.68,379.55 L132.82,382.39 L129.98,382.95 L128.84,386.36 L129.98,389.77 L132.82,392.61 L132.25,396.59 L130.55,400.00 L128.27,403.69 L126.00,403.12 L127.70,399.43 L128.27,394.32 L126.00,395.45 L124.30,399.43 L121.45,403.41 L119.18,402.84 L121.45,400.00 L122.59,395.45 L120.89,392.05 L119.75,386.36 L115.77,385.80 L110.09,386.36 L108.95,387.50 L110.66,392.05 L111.80,395.45 L111.23,400.00 L108.39,403.41 L107.25,402.27 L107.82,398.30 L107.25,395.45 L106.68,398.30 L105.55,402.27 L102.70,403.41 L102.14,401.14 L103.84,397.73 L103.84,393.18 L102.70,388.64 L101.00,385.23 L98.73,384.66 L96.45,382.39 L94.75,378.98 L91.91,376.14 L90.77,374.43 L87.36,374.43 L82.25,374.43 L80.55,372.73 L81.68,371.02 L84.52,368.18 Z" fill="#12849F" stroke="#12849F" stroke-width="0.6" stroke-linejoin="round"/>
<line x1="52.00" y1="703.30" x2="52.00" y2="1023.05" stroke="#444" stroke-width="1.60"/>
<line x1="51.20" y1="1022.40" x2="738.80" y2="1022.40" stroke="#2a2a2a" stroke-width="1.30"/>
<line x1="49.2" y1="729.8" x2="52.0" y2="729.8" stroke="#333" stroke-width="1.1"/>
<text x="47.5" y="733.8" font-size="17.0" fill="#4D4D4D" text-anchor="end">2.8</text>
<line x1="49.2" y1="821.7" x2="52.0" y2="821.7" stroke="#333" stroke-width="1.1"/>
<text x="47.5" y="825.7" font-size="17.0" fill="#4D4D4D" text-anchor="end">2.6</text>
<line x1="49.2" y1="915.0" x2="52.0" y2="915.0" stroke="#333" stroke-width="1.1"/>
<text x="47.5" y="919.0" font-size="17.0" fill="#4D4D4D" text-anchor="end">2.4</text>
<line x1="49.2" y1="1007.6" x2="52.0" y2="1007.6" stroke="#333" stroke-width="1.1"/>
<text x="47.5" y="1011.6" font-size="17.0" fill="#4D4D4D" text-anchor="end">2.2</text>
<line x1="222.0" y1="1022.4" x2="222.0" y2="1025.2" stroke="#333" stroke-width="1.1"/>
<line x1="453.8" y1="1022.4" x2="453.8" y2="1025.2" stroke="#333" stroke-width="1.1"/>
<line x1="684.2" y1="1022.4" x2="684.2" y2="1025.2" stroke="#333" stroke-width="1.1"/>
<text x="230.0" y="1040.5" font-size="17.0" fill="#4D4D4D" text-anchor="middle">−500</text>
<text x="453.8" y="1040.5" font-size="17.0" fill="#4D4D4D" text-anchor="middle">0</text>
<text x="689.2" y="1040.5" font-size="17.0" fill="#4D4D4D" text-anchor="middle">500</text>
<text x="154.0" y="1015.5" font-size="18.0" fill="#000" text-anchor="start" font-style="italic">IA1</text>
<text x="315.1" y="1015.5" font-size="18.0" fill="#000" text-anchor="start" font-style="italic">IA2</text>
<text x="397.2" y="1015.5" font-size="18.0" fill="#000" text-anchor="start" font-style="italic">LR</text>
<text x="490.9" y="1015.5" font-size="18.0" fill="#000" text-anchor="start" font-style="italic">RE</text>
<text x="646.7" y="1015.5" font-size="18.0" fill="#000" text-anchor="start" font-style="italic">LA</text>
<circle cx="274.0" cy="805.5" r="2.4" fill="rgba(252,193,10,0.30)"/>
<circle cx="256.7" cy="857.7" r="2.4" fill="rgba(252,193,10,0.30)"/>
<circle cx="262.5" cy="862.1" r="2.4" fill="rgba(252,193,10,0.30)"/>
<circle cx="123.9" cy="894.1" r="2.4" fill="rgba(205,12,16,0.30)"/>
<circle cx="123.9" cy="899.4" r="2.4" fill="rgba(205,12,16,0.30)"/>
<circle cx="129.6" cy="949.3" r="2.4" fill="rgba(205,12,16,0.30)"/>
<circle cx="205.9" cy="908.6" r="2.4" fill="rgba(205,12,16,0.30)"/>
<circle cx="222.2" cy="932.4" r="2.4" fill="rgba(205,12,16,0.30)"/>
<circle cx="256.7" cy="899.8" r="2.4" fill="rgba(205,12,16,0.30)"/>
<circle cx="268.2" cy="877.4" r="2.4" fill="rgba(205,12,16,0.30)"/>
<circle cx="274.0" cy="911.3" r="2.4" fill="rgba(205,12,16,0.30)"/>
<circle cx="268.2" cy="929.5" r="2.4" fill="rgba(205,12,16,0.30)"/>
<circle cx="274.0" cy="944.5" r="2.4" fill="rgba(205,12,16,0.30)"/>
<circle cx="256.7" cy="951.6" r="2.4" fill="rgba(205,12,16,0.30)"/>
<circle cx="228.0" cy="869.7" r="2.4" fill="rgba(252,193,10,0.30)"/>
<circle cx="251.0" cy="865.3" r="2.4" fill="rgba(252,193,10,0.30)"/>
<circle cx="262.5" cy="864.0" r="2.4" fill="rgba(252,193,10,0.30)"/>
<circle cx="251.0" cy="873.5" r="2.4" fill="rgba(252,193,10,0.30)"/>
<circle cx="239.5" cy="878.0" r="2.4" fill="rgba(252,193,10,0.30)"/>
<circle cx="215.9" cy="881.2" r="2.4" fill="rgba(252,193,10,0.30)"/>
<circle cx="219.7" cy="884.1" r="2.4" fill="rgba(252,193,10,0.30)"/>
<circle cx="228.0" cy="885.4" r="2.4" fill="rgba(252,193,10,0.30)"/>
<circle cx="228.0" cy="890.2" r="2.4" fill="rgba(252,193,10,0.30)"/>
<circle cx="239.5" cy="889.8" r="2.4" fill="rgba(252,193,10,0.30)"/>
<circle cx="245.2" cy="892.1" r="2.4" fill="rgba(252,193,10,0.30)"/>
<circle cx="210.7" cy="905.6" r="2.4" fill="rgba(252,193,10,0.30)"/>
<circle cx="222.2" cy="907.5" r="2.4" fill="rgba(252,193,10,0.30)"/>
<circle cx="233.7" cy="908.6" r="2.4" fill="rgba(252,193,10,0.30)"/>
<circle cx="239.5" cy="907.5" r="2.4" fill="rgba(252,193,10,0.30)"/>
<circle cx="228.0" cy="902.3" r="2.4" fill="rgba(252,193,10,0.30)"/>
<circle cx="268.2" cy="899.4" r="2.4" fill="rgba(252,193,10,0.30)"/>
<circle cx="274.0" cy="905.2" r="2.4" fill="rgba(252,193,10,0.30)"/>
<circle cx="239.5" cy="933.9" r="2.4" fill="rgba(252,193,10,0.30)"/>
<circle cx="251.0" cy="936.2" r="2.4" fill="rgba(252,193,10,0.30)"/>
<circle cx="274.0" cy="931.4" r="2.4" fill="rgba(252,193,10,0.30)"/>
<circle cx="274.0" cy="948.9" r="2.4" fill="rgba(252,193,10,0.30)"/>
<circle cx="262.5" cy="925.3" r="2.4" fill="rgba(252,193,10,0.30)"/>
<circle cx="222.2" cy="932.4" r="2.4" fill="rgba(252,193,10,0.30)"/>
<circle cx="418.5" cy="855.4" r="2.4" fill="rgba(205,12,16,0.30)"/>
<circle cx="490.4" cy="716.4" r="2.4" fill="rgba(252,193,10,0.30)"/>
<circle cx="320.3" cy="801.3" r="2.4" fill="rgba(252,193,10,0.30)"/>
<circle cx="462.6" cy="813.2" r="2.4" fill="rgba(252,193,10,0.30)"/>
<circle cx="360.6" cy="850.6" r="2.4" fill="rgba(252,193,10,0.30)"/>
<circle cx="377.8" cy="853.9" r="2.4" fill="rgba(252,193,10,0.30)"/>
<circle cx="383.6" cy="856.0" r="2.4" fill="rgba(252,193,10,0.30)"/>
<circle cx="389.3" cy="860.2" r="2.4" fill="rgba(252,193,10,0.30)"/>
<circle cx="462.6" cy="849.3" r="2.4" fill="rgba(252,193,10,0.30)"/>
<circle cx="462.6" cy="855.4" r="2.4" fill="rgba(252,193,10,0.30)"/>
<circle cx="453.2" cy="860.8" r="2.4" fill="rgba(252,193,10,0.30)"/>
<circle cx="285.5" cy="862.5" r="2.4" fill="rgba(252,193,10,0.30)"/>
<circle cx="303.1" cy="861.7" r="2.4" fill="rgba(252,193,10,0.30)"/>
<circle cx="314.6" cy="862.5" r="2.4" fill="rgba(252,193,10,0.30)"/>
<circle cx="462.6" cy="862.1" r="2.4" fill="rgba(252,193,10,0.30)"/>
<circle cx="429.6" cy="862.1" r="2.4" fill="rgba(252,193,10,0.30)"/>
<circle cx="297.3" cy="887.0" r="2.4" fill="rgba(205,12,16,0.30)"/>
<circle cx="319.4" cy="895.6" r="2.4" fill="rgba(205,12,16,0.30)"/>
<circle cx="319.4" cy="899.4" r="2.4" fill="rgba(205,12,16,0.30)"/>
<circle cx="326.1" cy="900.4" r="2.4" fill="rgba(205,12,16,0.30)"/>
<circle cx="366.3" cy="900.4" r="2.4" fill="rgba(205,12,16,0.30)"/>
<circle cx="418.5" cy="883.7" r="2.4" fill="rgba(205,12,16,0.30)"/>
<circle cx="297.3" cy="910.0" r="2.4" fill="rgba(205,12,16,0.30)"/>
<circle cx="319.4" cy="915.7" r="2.4" fill="rgba(205,12,16,0.30)"/>
<circle cx="319.4" cy="921.5" r="2.4" fill="rgba(205,12,16,0.30)"/>
<circle cx="337.6" cy="917.6" r="2.4" fill="rgba(205,12,16,0.30)"/>
<circle cx="297.3" cy="933.5" r="2.4" fill="rgba(205,12,16,0.30)"/>
<circle cx="300.2" cy="931.0" r="2.4" fill="rgba(205,12,16,0.30)"/>
<circle cx="314.6" cy="932.4" r="2.4" fill="rgba(205,12,16,0.30)"/>
<circle cx="326.1" cy="935.8" r="2.4" fill="rgba(205,12,16,0.30)"/>
<circle cx="337.6" cy="943.1" r="2.4" fill="rgba(205,12,16,0.30)"/>
<circle cx="297.3" cy="949.6" r="2.4" fill="rgba(205,12,16,0.30)"/>
<circle cx="297.3" cy="957.9" r="2.4" fill="rgba(205,12,16,0.30)"/>
<circle cx="319.4" cy="964.6" r="2.4" fill="rgba(205,12,16,0.30)"/>
<circle cx="366.3" cy="950.2" r="2.4" fill="rgba(205,12,16,0.30)"/>
<circle cx="406.6" cy="931.0" r="2.4" fill="rgba(205,12,16,0.30)"/>
<circle cx="406.6" cy="940.1" r="2.4" fill="rgba(205,12,16,0.30)"/>
<circle cx="406.6" cy="947.0" r="2.4" fill="rgba(205,12,16,0.30)"/>
<circle cx="411.8" cy="968.0" r="2.4" fill="rgba(205,12,16,0.30)"/>
<circle cx="463.1" cy="904.2" r="2.4" fill="rgba(205,12,16,0.30)"/>
<circle cx="465.1" cy="903.6" r="2.4" fill="rgba(205,12,16,0.30)"/>
<circle cx="476.6" cy="885.0" r="2.4" fill="rgba(205,12,16,0.30)"/>
<circle cx="493.8" cy="892.7" r="2.4" fill="rgba(205,12,16,0.30)"/>
<circle cx="493.8" cy="896.5" r="2.4" fill="rgba(205,12,16,0.30)"/>
<circle cx="493.8" cy="902.9" r="2.4" fill="rgba(205,12,16,0.30)"/>
<circle cx="453.6" cy="927.8" r="2.4" fill="rgba(205,12,16,0.30)"/>
<circle cx="453.6" cy="946.4" r="2.4" fill="rgba(205,12,16,0.30)"/>
<circle cx="453.6" cy="975.1" r="2.4" fill="rgba(205,12,16,0.30)"/>
<circle cx="285.5" cy="910.9" r="2.4" fill="rgba(205,12,16,0.30)"/>
<circle cx="291.2" cy="879.9" r="2.4" fill="rgba(252,193,10,0.30)"/>
<circle cx="291.2" cy="887.9" r="2.4" fill="rgba(252,193,10,0.30)"/>
<circle cx="303.1" cy="872.6" r="2.4" fill="rgba(252,193,10,0.30)"/>
<circle cx="314.6" cy="873.5" r="2.4" fill="rgba(252,193,10,0.30)"/>
<circle cx="314.6" cy="863.0" r="2.4" fill="rgba(252,193,10,0.30)"/>
<circle cx="303.1" cy="863.0" r="2.4" fill="rgba(252,193,10,0.30)"/>
<circle cx="291.2" cy="898.5" r="2.4" fill="rgba(252,193,10,0.30)"/>
<circle cx="291.2" cy="900.4" r="2.4" fill="rgba(252,193,10,0.30)"/>
<circle cx="291.2" cy="906.1" r="2.4" fill="rgba(252,193,10,0.30)"/>
<circle cx="303.1" cy="904.2" r="2.4" fill="rgba(252,193,10,0.30)"/>
<circle cx="308.8" cy="902.3" r="2.4" fill="rgba(252,193,10,0.30)"/>
<circle cx="308.8" cy="907.5" r="2.4" fill="rgba(252,193,10,0.30)"/>
<circle cx="314.6" cy="891.8" r="2.4" fill="rgba(252,193,10,0.30)"/>
<circle cx="314.6" cy="894.6" r="2.4" fill="rgba(252,193,10,0.30)"/>
<circle cx="320.3" cy="885.0" r="2.4" fill="rgba(252,193,10,0.30)"/>
<circle cx="320.3" cy="890.2" r="2.4" fill="rgba(252,193,10,0.30)"/>
<circle cx="320.3" cy="908.6" r="2.4" fill="rgba(252,193,10,0.30)"/>
<circle cx="326.1" cy="897.5" r="2.4" fill="rgba(252,193,10,0.30)"/>
<circle cx="337.6" cy="895.6" r="2.4" fill="rgba(252,193,10,0.30)"/>
<circle cx="337.6" cy="909.0" r="2.4" fill="rgba(252,193,10,0.30)"/>
<circle cx="343.3" cy="905.6" r="2.4" fill="rgba(252,193,10,0.30)"/>
<circle cx="360.6" cy="876.4" r="2.4" fill="rgba(252,193,10,0.30)"/>
<circle cx="360.6" cy="885.0" r="2.4" fill="rgba(252,193,10,0.30)"/>
<circle cx="360.6" cy="891.4" r="2.4" fill="rgba(252,193,10,0.30)"/>
<circle cx="366.3" cy="880.3" r="2.4" fill="rgba(252,193,10,0.30)"/>
<circle cx="366.3" cy="892.1" r="2.4" fill="rgba(252,193,10,0.30)"/>
<circle cx="360.6" cy="902.3" r="2.4" fill="rgba(252,193,10,0.30)"/>
<circle cx="360.6" cy="905.2" r="2.4" fill="rgba(252,193,10,0.30)"/>
<circle cx="360.6" cy="909.0" r="2.4" fill="rgba(252,193,10,0.30)"/>
<circle cx="377.8" cy="868.4" r="2.4" fill="rgba(252,193,10,0.30)"/>
<circle cx="383.6" cy="871.6" r="2.4" fill="rgba(252,193,10,0.30)"/>
<circle cx="383.6" cy="887.9" r="2.4" fill="rgba(252,193,10,0.30)"/>
<circle cx="377.8" cy="897.1" r="2.4" fill="rgba(252,193,10,0.30)"/>
<circle cx="377.8" cy="901.3" r="2.4" fill="rgba(252,193,10,0.30)"/>
<circle cx="383.6" cy="893.7" r="2.4" fill="rgba(252,193,10,0.30)"/>
<circle cx="389.3" cy="878.3" r="2.4" fill="rgba(252,193,10,0.30)"/>
<circle cx="389.3" cy="882.2" r="2.4" fill="rgba(252,193,10,0.30)"/>
<circle cx="389.3" cy="886.0" r="2.4" fill="rgba(252,193,10,0.30)"/>
<circle cx="389.3" cy="893.7" r="2.4" fill="rgba(252,193,10,0.30)"/>
<circle cx="395.1" cy="871.6" r="2.4" fill="rgba(252,193,10,0.30)"/>
<circle cx="400.8" cy="897.5" r="2.4" fill="rgba(252,193,10,0.30)"/>
<circle cx="297.3" cy="914.8" r="2.4" fill="rgba(252,193,10,0.30)"/>
<circle cx="297.3" cy="916.7" r="2.4" fill="rgba(252,193,10,0.30)"/>
<circle cx="308.8" cy="919.5" r="2.4" fill="rgba(252,193,10,0.30)"/>
<circle cx="303.1" cy="928.2" r="2.4" fill="rgba(252,193,10,0.30)"/>
<circle cx="308.8" cy="929.1" r="2.4" fill="rgba(252,193,10,0.30)"/>
<circle cx="314.6" cy="929.1" r="2.4" fill="rgba(252,193,10,0.30)"/>
<circle cx="320.3" cy="932.0" r="2.4" fill="rgba(252,193,10,0.30)"/>
<circle cx="331.8" cy="929.1" r="2.4" fill="rgba(252,193,10,0.30)"/>
<circle cx="343.3" cy="920.5" r="2.4" fill="rgba(252,193,10,0.30)"/>
<circle cx="354.8" cy="920.5" r="2.4" fill="rgba(252,193,10,0.30)"/>
<circle cx="360.6" cy="925.3" r="2.4" fill="rgba(252,193,10,0.30)"/>
<circle cx="349.1" cy="933.9" r="2.4" fill="rgba(252,193,10,0.30)"/>
<circle cx="354.8" cy="934.9" r="2.4" fill="rgba(252,193,10,0.30)"/>
<circle cx="360.6" cy="932.0" r="2.4" fill="rgba(252,193,10,0.30)"/>
<circle cx="360.6" cy="935.8" r="2.4" fill="rgba(252,193,10,0.30)"/>
<circle cx="360.6" cy="938.7" r="2.4" fill="rgba(252,193,10,0.30)"/>
<circle cx="366.3" cy="933.0" r="2.4" fill="rgba(252,193,10,0.30)"/>
<circle cx="383.6" cy="932.0" r="2.4" fill="rgba(252,193,10,0.30)"/>
<circle cx="303.1" cy="935.8" r="2.4" fill="rgba(252,193,10,0.30)"/>
<circle cx="308.8" cy="943.1" r="2.4" fill="rgba(252,193,10,0.30)"/>
<circle cx="314.6" cy="940.6" r="2.4" fill="rgba(252,193,10,0.30)"/>
<circle cx="320.3" cy="941.6" r="2.4" fill="rgba(252,193,10,0.30)"/>
<circle cx="337.6" cy="934.9" r="2.4" fill="rgba(252,193,10,0.30)"/>
<circle cx="343.3" cy="948.3" r="2.4" fill="rgba(252,193,10,0.30)"/>
<circle cx="308.8" cy="953.1" r="2.4" fill="rgba(252,193,10,0.30)"/>
<circle cx="314.6" cy="950.2" r="2.4" fill="rgba(252,193,10,0.30)"/>
<circle cx="326.1" cy="960.8" r="2.4" fill="rgba(252,193,10,0.30)"/>
<circle cx="360.6" cy="956.0" r="2.4" fill="rgba(252,193,10,0.30)"/>
<circle cx="360.6" cy="963.6" r="2.4" fill="rgba(252,193,10,0.30)"/>
<circle cx="314.6" cy="974.2" r="2.4" fill="rgba(252,193,10,0.30)"/>
<circle cx="354.8" cy="974.6" r="2.4" fill="rgba(252,193,10,0.30)"/>
<circle cx="360.6" cy="977.1" r="2.4" fill="rgba(252,193,10,0.30)"/>
<circle cx="291.2" cy="986.1" r="2.4" fill="rgba(252,193,10,0.30)"/>
<circle cx="400.8" cy="933.9" r="2.4" fill="rgba(252,193,10,0.30)"/>
<circle cx="400.8" cy="942.5" r="2.4" fill="rgba(252,193,10,0.30)"/>
<circle cx="400.8" cy="979.5" r="2.4" fill="rgba(252,193,10,0.30)"/>
<circle cx="400.8" cy="997.8" r="2.4" fill="rgba(252,193,10,0.30)"/>
<circle cx="418.5" cy="929.7" r="2.4" fill="rgba(252,193,10,0.30)"/>
<circle cx="430.6" cy="941.6" r="2.4" fill="rgba(252,193,10,0.30)"/>
<circle cx="430.6" cy="944.5" r="2.4" fill="rgba(252,193,10,0.30)"/>
<circle cx="435.3" cy="933.0" r="2.4" fill="rgba(252,193,10,0.30)"/>
<circle cx="441.1" cy="933.0" r="2.4" fill="rgba(252,193,10,0.30)"/>
<circle cx="435.3" cy="950.2" r="2.4" fill="rgba(252,193,10,0.30)"/>
<circle cx="441.1" cy="956.9" r="2.4" fill="rgba(252,193,10,0.30)"/>
<circle cx="446.8" cy="963.6" r="2.4" fill="rgba(252,193,10,0.30)"/>
<circle cx="446.8" cy="930.1" r="2.4" fill="rgba(252,193,10,0.30)"/>
<circle cx="446.8" cy="922.4" r="2.4" fill="rgba(252,193,10,0.30)"/>
<circle cx="453.6" cy="933.9" r="2.4" fill="rgba(252,193,10,0.30)"/>
<circle cx="453.6" cy="956.0" r="2.4" fill="rgba(252,193,10,0.30)"/>
<circle cx="453.6" cy="980.3" r="2.4" fill="rgba(252,193,10,0.30)"/>
<circle cx="449.7" cy="944.5" r="2.4" fill="rgba(252,193,10,0.30)"/>
<circle cx="435.3" cy="893.7" r="2.4" fill="rgba(252,193,10,0.30)"/>
<circle cx="435.3" cy="899.8" r="2.4" fill="rgba(252,193,10,0.30)"/>
<circle cx="444.0" cy="886.0" r="2.4" fill="rgba(252,193,10,0.30)"/>
<circle cx="446.8" cy="896.5" r="2.4" fill="rgba(252,193,10,0.30)"/>
<circle cx="446.8" cy="874.9" r="2.4" fill="rgba(252,193,10,0.30)"/>
<circle cx="449.7" cy="879.3" r="2.4" fill="rgba(252,193,10,0.30)"/>
<circle cx="453.6" cy="879.9" r="2.4" fill="rgba(252,193,10,0.30)"/>
<circle cx="449.7" cy="885.6" r="2.4" fill="rgba(252,193,10,0.30)"/>
<circle cx="453.6" cy="890.8" r="2.4" fill="rgba(252,193,10,0.30)"/>
<circle cx="449.7" cy="901.3" r="2.4" fill="rgba(252,193,10,0.30)"/>
<circle cx="453.6" cy="899.8" r="2.4" fill="rgba(252,193,10,0.30)"/>
<circle cx="465.1" cy="879.3" r="2.4" fill="rgba(252,193,10,0.30)"/>
<circle cx="465.1" cy="885.0" r="2.4" fill="rgba(252,193,10,0.30)"/>
<circle cx="470.8" cy="877.4" r="2.4" fill="rgba(252,193,10,0.30)"/>
<circle cx="476.6" cy="867.8" r="2.4" fill="rgba(252,193,10,0.30)"/>
<circle cx="482.3" cy="867.8" r="2.4" fill="rgba(252,193,10,0.30)"/>
<circle cx="476.6" cy="891.8" r="2.4" fill="rgba(252,193,10,0.30)"/>
<circle cx="470.8" cy="898.5" r="2.4" fill="rgba(252,193,10,0.30)"/>
<circle cx="479.4" cy="904.2" r="2.4" fill="rgba(252,193,10,0.30)"/>
<circle cx="488.1" cy="894.6" r="2.4" fill="rgba(252,193,10,0.30)"/>
<circle cx="490.9" cy="881.2" r="2.4" fill="rgba(252,193,10,0.30)"/>
<circle cx="493.8" cy="885.0" r="2.4" fill="rgba(252,193,10,0.30)"/>
<circle cx="499.6" cy="882.2" r="2.4" fill="rgba(252,193,10,0.30)"/>
<circle cx="505.3" cy="886.0" r="2.4" fill="rgba(252,193,10,0.30)"/>
<circle cx="499.6" cy="897.5" r="2.4" fill="rgba(252,193,10,0.30)"/>
<circle cx="511.1" cy="874.5" r="2.4" fill="rgba(252,193,10,0.30)"/>
<circle cx="511.1" cy="936.8" r="2.4" fill="rgba(252,193,10,0.30)"/>
<circle cx="490.0" cy="919.5" r="2.4" fill="rgba(252,193,10,0.30)"/>
<circle cx="493.8" cy="931.0" r="2.4" fill="rgba(252,193,10,0.30)"/>
<circle cx="476.6" cy="942.0" r="2.4" fill="rgba(252,193,10,0.30)"/>
<circle cx="482.3" cy="935.8" r="2.4" fill="rgba(252,193,10,0.30)"/>
<circle cx="482.3" cy="942.5" r="2.4" fill="rgba(252,193,10,0.30)"/>
<circle cx="476.6" cy="948.3" r="2.4" fill="rgba(252,193,10,0.30)"/>
<circle cx="479.4" cy="951.2" r="2.4" fill="rgba(252,193,10,0.30)"/>
<circle cx="470.8" cy="922.4" r="2.4" fill="rgba(252,193,10,0.30)"/>
<circle cx="476.6" cy="976.1" r="2.4" fill="rgba(252,193,10,0.30)"/>
<circle cx="476.6" cy="982.2" r="2.4" fill="rgba(252,193,10,0.30)"/>
<circle cx="476.6" cy="989.9" r="2.4" fill="rgba(252,193,10,0.30)"/>
<circle cx="476.6" cy="995.6" r="2.4" fill="rgba(252,193,10,0.30)"/>
<circle cx="429.6" cy="897.5" r="2.4" fill="rgba(252,193,10,0.30)"/>
<circle cx="429.6" cy="901.3" r="2.4" fill="rgba(252,193,10,0.30)"/>
<circle cx="429.6" cy="905.2" r="2.4" fill="rgba(252,193,10,0.30)"/>
<circle cx="429.6" cy="879.3" r="2.4" fill="rgba(252,193,10,0.30)"/>
<circle cx="319.4" cy="897.5" r="2.4" fill="rgba(252,193,10,0.30)"/>
<circle cx="326.1" cy="899.4" r="2.4" fill="rgba(252,193,10,0.30)"/>
<circle cx="580.3" cy="802.1" r="2.4" fill="rgba(205,12,16,0.30)"/>
<circle cx="684.0" cy="797.5" r="2.4" fill="rgba(205,12,16,0.30)"/>
<circle cx="516.7" cy="808.4" r="2.4" fill="rgba(252,193,10,0.30)"/>
<circle cx="516.7" cy="812.3" r="2.4" fill="rgba(252,193,10,0.30)"/>
<circle cx="516.7" cy="855.4" r="2.4" fill="rgba(252,193,10,0.30)"/>
<circle cx="614.8" cy="796.5" r="2.4" fill="rgba(252,193,10,0.30)"/>
<circle cx="688.8" cy="839.7" r="2.4" fill="rgba(252,193,10,0.30)"/>
<circle cx="688.8" cy="859.8" r="2.4" fill="rgba(252,193,10,0.30)"/>
<circle cx="597.6" cy="861.7" r="2.4" fill="rgba(252,193,10,0.30)"/>
<circle cx="580.3" cy="893.7" r="2.4" fill="rgba(205,12,16,0.30)"/>
<circle cx="580.3" cy="898.8" r="2.4" fill="rgba(205,12,16,0.30)"/>
<circle cx="586.1" cy="897.5" r="2.4" fill="rgba(205,12,16,0.30)"/>
<circle cx="580.3" cy="920.9" r="2.4" fill="rgba(205,12,16,0.30)"/>
<circle cx="586.1" cy="930.5" r="2.4" fill="rgba(205,12,16,0.30)"/>
<circle cx="586.1" cy="941.2" r="2.4" fill="rgba(205,12,16,0.30)"/>
<circle cx="586.1" cy="959.4" r="2.4" fill="rgba(205,12,16,0.30)"/>
<circle cx="548.3" cy="968.8" r="2.4" fill="rgba(205,12,16,0.30)"/>
<circle cx="638.0" cy="950.8" r="2.4" fill="rgba(205,12,16,0.30)"/>
<circle cx="642.3" cy="897.5" r="2.4" fill="rgba(205,12,16,0.30)"/>
<circle cx="684.0" cy="882.2" r="2.4" fill="rgba(205,12,16,0.30)"/>
<circle cx="684.0" cy="974.2" r="2.4" fill="rgba(205,12,16,0.30)"/>
<circle cx="684.0" cy="984.7" r="2.4" fill="rgba(205,12,16,0.30)"/>
<circle cx="511.5" cy="873.5" r="2.4" fill="rgba(252,193,10,0.30)"/>
<circle cx="511.5" cy="884.5" r="2.4" fill="rgba(252,193,10,0.30)"/>
<circle cx="522.5" cy="875.5" r="2.4" fill="rgba(252,193,10,0.30)"/>
<circle cx="545.8" cy="872.6" r="2.4" fill="rgba(252,193,10,0.30)"/>
<circle cx="545.8" cy="881.8" r="2.4" fill="rgba(252,193,10,0.30)"/>
<circle cx="568.8" cy="876.4" r="2.4" fill="rgba(252,193,10,0.30)"/>
<circle cx="603.3" cy="868.4" r="2.4" fill="rgba(252,193,10,0.30)"/>
<circle cx="597.6" cy="863.0" r="2.4" fill="rgba(252,193,10,0.30)"/>
<circle cx="591.8" cy="871.6" r="2.4" fill="rgba(252,193,10,0.30)"/>
<circle cx="643.6" cy="876.0" r="2.4" fill="rgba(252,193,10,0.30)"/>
<circle cx="678.3" cy="880.6" r="2.4" fill="rgba(252,193,10,0.30)"/>
<circle cx="688.8" cy="874.5" r="2.4" fill="rgba(252,193,10,0.30)"/>
<circle cx="649.5" cy="892.1" r="2.4" fill="rgba(252,193,10,0.30)"/>
<circle cx="614.8" cy="896.9" r="2.4" fill="rgba(252,193,10,0.30)"/>
<circle cx="545.8" cy="901.3" r="2.4" fill="rgba(252,193,10,0.30)"/>
<circle cx="511.5" cy="901.0" r="2.4" fill="rgba(252,193,10,0.30)"/>
<circle cx="528.2" cy="904.2" r="2.4" fill="rgba(252,193,10,0.30)"/>
<circle cx="516.7" cy="921.1" r="2.4" fill="rgba(252,193,10,0.30)"/>
<circle cx="528.2" cy="922.8" r="2.4" fill="rgba(252,193,10,0.30)"/>
<circle cx="545.8" cy="930.1" r="2.4" fill="rgba(252,193,10,0.30)"/>
<circle cx="522.5" cy="933.0" r="2.4" fill="rgba(252,193,10,0.30)"/>
<circle cx="511.5" cy="936.8" r="2.4" fill="rgba(252,193,10,0.30)"/>
<circle cx="528.2" cy="941.6" r="2.4" fill="rgba(252,193,10,0.30)"/>
<circle cx="527.3" cy="939.7" r="2.4" fill="rgba(252,193,10,0.30)"/>
<circle cx="568.8" cy="943.1" r="2.4" fill="rgba(252,193,10,0.30)"/>
<circle cx="551.6" cy="954.4" r="2.4" fill="rgba(252,193,10,0.30)"/>
<circle cx="528.2" cy="964.6" r="2.4" fill="rgba(252,193,10,0.30)"/>
<circle cx="614.8" cy="937.8" r="2.4" fill="rgba(252,193,10,0.30)"/>
<circle cx="626.4" cy="934.9" r="2.4" fill="rgba(252,193,10,0.30)"/>
<circle cx="603.3" cy="953.5" r="2.4" fill="rgba(252,193,10,0.30)"/>
<circle cx="614.8" cy="954.4" r="2.4" fill="rgba(252,193,10,0.30)"/>
<circle cx="614.8" cy="963.1" r="2.4" fill="rgba(252,193,10,0.30)"/>
<circle cx="649.5" cy="958.8" r="2.4" fill="rgba(252,193,10,0.30)"/>
<circle cx="597.6" cy="922.8" r="2.4" fill="rgba(252,193,10,0.30)"/>
<circle cx="522.5" cy="1007.1" r="2.4" fill="rgba(252,193,10,0.30)"/>
<circle cx="707.4" cy="971.3" r="2.4" fill="rgba(252,193,10,0.30)"/>
<circle cx="708.4" cy="916.7" r="2.4" fill="rgba(252,193,10,0.30)"/>
<circle cx="708.4" cy="902.3" r="2.4" fill="rgba(252,193,10,0.30)"/>
<line x1="245.40" y1="1022.4" x2="245.40" y2="703.8" stroke="#000" stroke-width="1.5" stroke-dasharray="4.15,4.15"/>
<line x1="395.30" y1="1022.4" x2="395.30" y2="703.8" stroke="#000" stroke-width="1.5" stroke-dasharray="4.15,4.15"/>
<line x1="430.50" y1="1022.4" x2="430.50" y2="703.8" stroke="#000" stroke-width="1.5" stroke-dasharray="4.15,4.15"/>
<line x1="591.80" y1="1022.4" x2="591.80" y2="703.8" stroke="#000" stroke-width="1.5" stroke-dasharray="4.15,4.15"/>
<path d="M95.5,898.8 L97.0,899.1 L99.1,899.5 L101.6,900.0 L104.4,900.5 L107.2,901.0 L110.0,901.5 L112.8,901.9 L115.6,902.3 L118.5,902.7 L121.6,903.1 L124.7,903.6 L128.0,904.0 L131.5,904.5 L135.1,904.9 L138.9,905.4 L142.7,905.9 L146.4,906.5 L150.0,907.0 L153.4,907.6 L156.5,908.1 L159.6,908.7 L162.8,909.3 L166.2,909.9 L170.0,910.5 L174.4,911.1 L179.3,911.8 L184.5,912.4 L189.6,913.0 L194.2,913.6 L198.0,914.0 L200.6,914.3 L202.1,914.4 L203.2,914.5 L204.5,914.6 L206.6,914.7 L210.0,915.0 L215.0,915.4 L221.1,915.9 L227.9,916.5 L235.3,917.0 L242.7,917.7 L250.0,918.2 L257.2,918.9 L264.6,919.6 L272.2,920.3 L279.8,921.0 L287.4,921.5 L295.0,922.0 L302.5,922.3 L310.0,922.6 L317.5,922.8 L325.0,922.9 L332.5,922.9 L340.0,922.8 L347.6,922.5 L355.2,922.1 L362.8,921.5 L370.4,921.0 L377.8,920.4 L385.0,919.8 L391.9,919.2 L398.5,918.5 L405.0,917.9 L411.5,917.2 L418.1,916.5 L425.0,915.8 L432.2,914.9 L439.6,913.9 L447.2,912.9 L454.8,912.0 L462.4,911.1 L470.0,910.5 L477.5,910.1 L485.0,909.9 L492.5,909.8 L500.0,909.8 L507.5,909.8 L515.0,909.8 L522.8,909.6 L530.9,909.5 L539.1,909.3 L546.9,909.2 L553.9,909.1 L560.0,909.0 L564.7,908.9 L568.3,908.9 L571.2,908.9 L573.9,908.9 L576.7,908.8 L580.0,908.7 L584.0,908.5 L588.3,908.3 L592.8,908.0 L597.2,907.8 L601.4,907.6 L605.0,907.5 L607.8,907.6 L609.8,907.7 L611.6,907.9 L613.5,908.2 L616.2,908.5 L620.0,908.7 L625.4,908.9 L632.0,909.1 L639.4,909.3 L646.9,909.5 L653.9,909.8 L660.0,910.0 L665.1,910.2 L669.6,910.5 L673.7,910.7 L677.5,911.0 L681.2,911.2 L685.0,911.5 L689.0,911.8 L693.1,912.1 L697.1,912.5 L700.7,912.8 L703.8,913.1 L706.0,913.3 L706.0,953.3 L703.8,952.3 L700.7,950.9 L697.1,949.2 L693.1,947.4 L689.0,945.7 L685.0,944.0 L681.2,942.5 L677.5,941.0 L673.7,939.5 L669.6,938.0 L665.1,936.4 L660.0,934.7 L653.9,932.7 L646.9,930.5 L639.4,928.1 L632.0,925.9 L625.4,924.0 L620.0,922.7 L616.2,922.0 L613.5,921.9 L611.6,922.1 L609.8,922.4 L607.8,922.6 L605.0,922.5 L601.4,922.0 L597.2,921.4 L592.8,920.6 L588.3,919.8 L584.0,919.2 L580.0,918.7 L576.7,918.5 L573.9,918.5 L571.2,918.5 L568.3,918.6 L564.7,918.7 L560.0,918.8 L553.9,918.7 L546.9,918.6 L539.1,918.4 L530.9,918.3 L522.8,918.1 L515.0,918.0 L507.5,917.8 L500.0,917.5 L492.5,917.2 L485.0,916.9 L477.5,916.9 L470.0,917.2 L462.4,918.0 L454.8,919.0 L447.2,920.3 L439.6,921.6 L432.2,922.9 L425.0,924.0 L418.1,925.0 L411.5,926.0 L405.0,926.9 L398.5,927.7 L391.9,928.3 L385.0,928.8 L377.8,928.9 L370.4,928.7 L362.8,928.4 L355.2,928.0 L347.6,927.6 L340.0,927.2 L332.5,926.9 L325.0,926.5 L317.5,926.1 L310.0,925.7 L302.5,925.3 L295.0,925.0 L287.4,924.7 L279.8,924.5 L272.2,924.2 L264.6,924.0 L257.2,923.8 L250.0,923.5 L242.7,923.2 L235.3,922.9 L227.9,922.6 L221.1,922.3 L215.0,922.0 L210.0,921.8 L206.6,921.7 L204.5,921.6 L203.2,921.6 L202.1,921.6 L200.6,921.6 L198.0,921.5 L194.2,921.3 L189.6,921.1 L184.5,920.8 L179.3,920.5 L174.4,920.2 L170.0,920.0 L166.2,919.8 L162.8,919.7 L159.6,919.6 L156.5,919.5 L153.4,919.5 L150.0,919.5 L146.4,919.6 L142.7,919.8 L138.9,920.0 L135.1,920.2 L131.5,920.4 L128.0,920.5 L124.7,920.5 L121.6,920.5 L118.5,920.5 L115.6,920.4 L112.8,920.4 L110.0,920.3 L107.2,920.3 L104.4,920.2 L101.6,920.1 L99.1,920.1 L97.0,920.0 L95.5,920.0 Z" fill="#CD0C10"/>
<path d="M83.0,912.2 L96.0,912.2 L96.0,919.0 L83.0,918.5 Z" fill="#CD0C10"/>
<path d="M205.0,913.5 Q157.5,907.5 110.0,899.5" fill="none" stroke="#CD0C10" stroke-width="0.80"/>
<path d="M205.0,913.5 Q151.5,906.6 98.0,897.8" fill="none" stroke="#CD0C10" stroke-width="0.80"/>
<path d="M170.0,920.5 Q127.5,921.0 85.0,921.5" fill="none" stroke="#CD0C10" stroke-width="0.80"/>
<path d="M170.0,920.5 Q131.0,921.5 92.0,922.5" fill="none" stroke="#CD0C10" stroke-width="0.80"/>
<path d="M596.0,920.0 Q651.0,933.5 706.0,955.0" fill="none" stroke="#CD0C10" stroke-width="0.80"/>
<path d="M596.0,920.0 Q651.0,935.0 706.0,958.0" fill="none" stroke="#CD0C10" stroke-width="0.80"/>
<path d="M596.0,920.0 Q651.0,936.5 706.0,961.0" fill="none" stroke="#CD0C10" stroke-width="0.80"/>
<path d="M596.0,920.0 Q651.0,938.0 706.0,964.0" fill="none" stroke="#CD0C10" stroke-width="0.80"/>
<path d="M596.0,920.0 Q651.0,939.5 706.0,967.0" fill="none" stroke="#CD0C10" stroke-width="0.80"/>
<path d="M596.0,920.0 Q651.0,941.0 706.0,970.0" fill="none" stroke="#CD0C10" stroke-width="0.80"/>
<path d="M596.0,920.0 Q651.0,942.2 706.0,972.5" fill="none" stroke="#CD0C10" stroke-width="0.80"/>
<path d="M596.0,920.0 Q648.0,940.0 700.0,968.0" fill="none" stroke="#CD0C10" stroke-width="0.80"/>
<path d="M596.0,920.0 Q643.0,937.5 690.0,963.0" fill="none" stroke="#CD0C10" stroke-width="0.80"/>
<path d="M596.0,920.0 Q646.0,936.5 696.0,961.0" fill="none" stroke="#CD0C10" stroke-width="0.80"/>
<path d="M187.5,885.0 L189.7,885.5 L192.7,886.1 L196.2,886.8 L200.4,887.7 L205.0,888.8 L210.0,890.0 L215.6,891.5 L221.9,893.4 L228.6,895.4 L235.6,897.4 L242.8,899.3 L250.0,901.0 L257.2,902.4 L264.6,903.7 L272.2,904.8 L279.8,905.9 L287.4,906.8 L295.0,907.8 L302.5,908.6 L310.0,909.4 L317.5,910.1 L325.0,910.7 L332.5,911.2 L340.0,911.5 L347.6,911.6 L355.2,911.6 L362.8,911.4 L370.4,911.2 L377.8,910.9 L385.0,910.8 L391.9,910.6 L398.5,910.5 L405.0,910.4 L411.5,910.2 L418.1,910.0 L425.0,909.8 L432.2,909.3 L439.6,908.8 L447.2,908.3 L454.8,907.7 L462.4,907.2 L470.0,906.8 L477.5,906.4 L485.0,906.1 L492.5,905.9 L500.0,905.6 L507.5,905.4 L515.0,905.2 L522.8,905.1 L530.9,904.9 L539.1,904.8 L546.9,904.7 L553.9,904.6 L560.0,904.5 L564.5,904.4 L567.8,904.4 L570.3,904.3 L572.8,904.3 L575.8,904.2 L580.0,904.0 L585.5,903.8 L591.9,903.5 L598.8,903.2 L605.9,902.8 L613.1,902.4 L620.0,902.0 L626.8,901.5 L633.9,901.0 L640.9,900.4 L647.8,899.8 L654.2,899.2 L660.0,898.7 L665.1,898.3 L669.6,897.9 L673.7,897.6 L677.5,897.2 L681.2,896.9 L685.0,896.5 L689.0,896.1 L693.1,895.6 L697.1,895.1 L700.7,894.7 L703.8,894.3 L706.0,894.0 L706.0,913.3 L703.8,913.1 L700.7,912.8 L697.1,912.5 L693.1,912.1 L689.0,911.8 L685.0,911.5 L681.2,911.2 L677.5,911.0 L673.7,910.7 L669.6,910.5 L665.1,910.2 L660.0,910.0 L654.2,909.8 L647.8,909.5 L640.9,909.3 L633.9,909.0 L626.8,908.8 L620.0,908.7 L613.1,908.6 L605.9,908.6 L598.8,908.6 L591.9,908.6 L585.5,908.7 L580.0,908.7 L575.8,908.7 L572.8,908.8 L570.3,908.8 L567.8,908.9 L564.5,908.9 L560.0,909.0 L553.9,909.1 L546.9,909.2 L539.1,909.3 L530.9,909.5 L522.8,909.6 L515.0,909.8 L507.5,909.8 L500.0,909.9 L492.5,910.0 L485.0,910.1 L477.5,910.2 L470.0,910.5 L462.4,910.9 L454.8,911.4 L447.2,911.9 L439.6,912.5 L432.2,913.0 L425.0,913.5 L418.1,914.0 L411.5,914.5 L405.0,914.9 L398.5,915.4 L391.9,915.7 L385.0,916.0 L377.8,916.2 L370.4,916.4 L362.8,916.4 L355.2,916.4 L347.6,916.3 L340.0,916.0 L332.5,915.5 L325.0,914.9 L317.5,914.1 L310.0,913.3 L302.5,912.4 L295.0,911.5 L287.4,910.6 L279.8,909.7 L272.2,908.8 L264.6,907.8 L257.2,906.7 L250.0,905.5 L242.8,904.1 L235.6,902.4 L228.6,900.7 L221.9,898.9 L215.6,897.3 L210.0,896.0 L205.0,894.9 L200.4,894.0 L196.2,893.2 L192.7,892.5 L189.7,891.9 L187.5,891.5 Z" fill="#FCC10A"/>
<path d="M634.0,901.0 Q670.0,892.2 706.0,881.5" fill="none" stroke="#CD0C10" stroke-width="0.80"/>
<path d="M634.0,901.0 Q667.0,893.2 700.0,883.5" fill="none" stroke="#CD0C10" stroke-width="0.80"/>
<path d="M634.0,901.0 Q670.0,893.5 706.0,884.0" fill="none" stroke="#CD0C10" stroke-width="0.80"/>
<path d="M634.0,901.0 Q670.0,894.5 706.0,886.0" fill="none" stroke="#CD0C10" stroke-width="0.80"/>
<path d="M634.0,901.0 Q670.0,895.5 706.0,888.0" fill="none" stroke="#CD0C10" stroke-width="0.80"/>
<path d="M634.0,901.0 Q670.0,896.5 706.0,890.0" fill="none" stroke="#CD0C10" stroke-width="0.80"/>
<path d="M634.0,901.0 Q670.0,897.5 706.0,892.0" fill="none" stroke="#CD0C10" stroke-width="0.80"/>
<path d="M634.0,901.0 Q668.5,895.0 703.0,887.0" fill="none" stroke="#CD0C10" stroke-width="0.80"/>
<path d="M98.33,716.57 L99.60,715.93 L100.87,717.83 L104.67,714.03 L111.00,710.55 L120.50,710.23 L130.00,711.18 L139.50,711.82 L146.46,714.03 L151.53,717.20 L154.06,720.37 L157.86,722.27 L162.30,724.17 L157.86,726.07 L156.60,728.60 L157.23,732.40 L158.50,734.93 L155.33,736.52 L149.00,736.52 L142.66,736.83 L141.40,740.00 L142.66,742.53 L139.50,742.53 L138.23,738.73 L137.60,741.27 L137.60,743.80 L135.07,744.12 L134.43,740.00 L133.80,735.57 L126.83,735.25 L118.60,734.30 L113.53,733.03 L110.37,736.20 L109.10,740.00 L111.00,743.17 L108.47,743.48 L106.57,740.00 L105.93,737.47 L105.30,740.63 L105.93,742.53 L103.40,742.53 L102.13,739.37 L101.50,733.67 L101.82,730.50 L100.87,726.70 L98.97,724.80 L97.70,722.90 L98.33,720.37 L98.97,718.47 Z" fill="#EB6E9A" stroke="#EB6E9A" stroke-width="0.6" stroke-linejoin="round"/>
<text x="59.3" y="19.6" font-size="18.0" fill="#000" text-anchor="start">A</text>
<text x="57.4" y="375.0" font-size="18.0" fill="#000" text-anchor="start">C</text>
<text x="72.2" y="712.6" font-size="18.0" fill="#000" text-anchor="start">E</text>
<text x="748.4" y="17.3" font-size="19.0" fill="#000" text-anchor="start">B</text>
<text x="745.8" y="337.9" font-size="19.0" fill="#000" text-anchor="start">D</text>
<text x="748.8" y="700.7" font-size="19.0" fill="#000" text-anchor="start">F</text>
<text x="378.0" y="1049.0" font-size="17.0" fill="#000" text-anchor="start" font-weight="bold">Time</text>
<text x="0" y="0" font-size="17.5" font-weight="bold" fill="#000" text-anchor="middle" transform="translate(15.0,505.3) rotate(-90)">LogCS</text>
<circle cx="1025" cy="18.7" r="8.3" fill="#F9C13D"/>
<rect x="1018.8" y="36.2" width="14.4" height="14" fill="#CD0C10"/>
<text x="1042.0" y="27.2" font-size="23.4" fill="#F2BE2C" text-anchor="start" font-style="italic">Languedoc</text>
<text x="1042.4" y="50.2" font-size="23.3" fill="#C8202B" text-anchor="start" font-style="italic">Catalonia</text>
<path d="M968.3,202.3 L974.9,202.3" fill="none" stroke="#111" stroke-width="1.2"/>
<path d="M968.3,202.3 L960.3,195.7 L910.6,178.4" fill="none" stroke="#111" stroke-width="1.2"/>
<path d="M960.3,195.7 L941.1,170.2" fill="none" stroke="#111" stroke-width="1.2"/>
<path d="M968.3,202.3 L958.3,205.0" fill="none" stroke="#111" stroke-width="1.2"/>
<path d="M958.3,205.0 L950.1,228.2" fill="none" stroke="#111" stroke-width="1.2"/>
<path d="M974.9,202.3 L980.2,194.4 L980.9,152.6" fill="none" stroke="#111" stroke-width="1.2"/>
<path d="M980.2,194.4 L989.2,186.5 L1055.6,94.6" fill="none" stroke="#111" stroke-width="1.2"/>
<path d="M974.9,202.3 L978.9,207.6 L1011.4,218.2" fill="none" stroke="#111" stroke-width="1.2"/>
<path d="M978.9,207.6 L980.2,215.6 L994.4,236.8" fill="none" stroke="#111" stroke-width="1.2"/>
<path d="M980.2,215.6 L980.9,271.2" fill="none" stroke="#111" stroke-width="1.2"/>
<circle cx="910.5" cy="178.6" r="8.2" fill="#F9C13D"/>
<circle cx="941.2" cy="170.1" r="8.2" fill="#F9C13D"/>
<circle cx="958.3" cy="204.5" r="8.2" fill="#F9C13D"/>
<circle cx="950.0" cy="228.1" r="8.2" fill="#F9C13D"/>
<circle cx="994.4" cy="236.7" r="8.2" fill="#F9C13D"/>
<rect x="974.5" y="146.2" width="13.6" height="13.6" fill="#CD0C10"/>
<rect x="988.3" y="184.1" width="13.6" height="13.6" fill="#CD0C10"/>
<rect x="1004.4" y="212.0" width="13.6" height="13.6" fill="#CD0C10"/>
<rect x="974.5" y="264.7" width="13.6" height="13.6" fill="#CD0C10"/>
<rect x="1048.8" y="87.8" width="13.6" height="13.6" fill="#CD0C10"/>
<text x="830.8" y="143.8" font-size="17.6" fill="#F2BE2C" text-anchor="start" font-style="italic">Roman</text>
<text x="830.8" y="164.4" font-size="17.6" fill="#F2BE2C" text-anchor="start" font-style="italic">Empire (n=61)</text>
<text x="762.0" y="185.9" font-size="17.6" fill="#F2BE2C" text-anchor="start" font-style="italic">Late Republican</text>
<text x="762.5" y="206.5" font-size="17.6" fill="#F2BE2C" text-anchor="start" font-style="italic">(n=34)</text>
<text x="860.4" y="211.1" font-size="17.6" fill="#F2BE2C" text-anchor="start" font-style="italic">Iron Age 2</text>
<text x="865.6" y="231.9" font-size="17.6" fill="#F2BE2C" text-anchor="start" font-style="italic">(n=198)</text>
<text x="824.6" y="252.4" font-size="17.6" fill="#F2BE2C" text-anchor="start" font-style="italic">Iron Age 1 (n=69)</text>
<text x="1001.0" y="252.9" font-size="17.6" fill="#F2BE2C" text-anchor="start" font-style="italic">Late Antiquity (n=55)</text>
<text x="949.0" y="124.4" font-size="17.6" fill="#C8202B" text-anchor="start" font-style="italic">Iron Age 1</text>
<text x="949.0" y="145.3" font-size="17.6" fill="#C8202B" text-anchor="start" font-style="italic">(n=98)</text>
<text x="1057.9" y="84.7" font-size="17.6" fill="#C8202B" text-anchor="start" font-style="italic">Late Republican</text>
<text x="1062.5" y="104.9" font-size="17.6" fill="#C8202B" text-anchor="start" font-style="italic">(n=22)</text>
<text x="1003.8" y="190.2" font-size="17.6" fill="#C8202B" text-anchor="start" font-style="italic">Iron Age 2 (n=152)</text>
<text x="1019.6" y="223.9" font-size="17.6" fill="#C8202B" text-anchor="start" font-style="italic">Roman Empire (n=86)</text>
<text x="975.6" y="293.3" font-size="17.6" fill="#C8202B" text-anchor="start" font-style="italic">Late Antiquity (n=50)</text>
<path d="M1019.2,407.7 L1019.2,462.4" fill="none" stroke="#111" stroke-width="1.2"/>
<path d="M1019.4,462.7 L1041.7,433.0" fill="none" stroke="#111" stroke-width="1.2"/>
<path d="M1010.3,456.1 L1018.3,466.1" fill="none" stroke="#111" stroke-width="1.2"/>
<path d="M1019.2,462.4 L1018.3,466.1 L1018.6,474.8" fill="none" stroke="#111" stroke-width="1.2"/>
<path d="M893.6,432.4 L1018.6,472.6" fill="none" stroke="#111" stroke-width="1.2"/>
<path d="M1001.6,480.9 L1018.6,474.8" fill="none" stroke="#111" stroke-width="1.2"/>
<path d="M1018.6,474.8 L1022.4,482.4" fill="none" stroke="#111" stroke-width="1.2"/>
<path d="M1021.0,477.0 L1030.0,474.5" fill="none" stroke="#111" stroke-width="1.2"/>
<path d="M1022.4,482.4 L1050.3,491.3" fill="none" stroke="#111" stroke-width="1.2"/>
<path d="M1022.4,482.4 L1022.4,499.0" fill="none" stroke="#111" stroke-width="1.2"/>
<path d="M1022.4,499.0 L1032.7,511.2" fill="none" stroke="#111" stroke-width="1.2"/>
<path d="M1022.4,499.0 L1019.4,507.4" fill="none" stroke="#111" stroke-width="1.2"/>
<path d="M1019.4,507.4 L964.0,582.4" fill="none" stroke="#111" stroke-width="1.2"/>
<path d="M1019.4,507.4 L1019.6,598.6" fill="none" stroke="#111" stroke-width="1.2"/>
<circle cx="893.6" cy="432.4" r="8.0" fill="#F9C13D"/>
<circle cx="1001.6" cy="480.9" r="8.0" fill="#F9C13D"/>
<circle cx="1032.7" cy="511.2" r="8.0" fill="#F9C13D"/>
<circle cx="964.2" cy="582.4" r="8.0" fill="#F9C13D"/>
<circle cx="1019.6" cy="598.6" r="8.0" fill="#F9C13D"/>
<rect x="1012.3" y="400.8" width="13.8" height="13.8" fill="#CD0C10"/>
<rect x="1034.8" y="426.1" width="13.8" height="13.8" fill="#CD0C10"/>
<rect x="1003.4" y="449.2" width="13.8" height="13.8" fill="#CD0C10"/>
<rect x="1026.5" y="466.7" width="13.8" height="13.8" fill="#CD0C10"/>
<rect x="1043.4" y="484.4" width="13.8" height="13.8" fill="#CD0C10"/>
<text x="760.0" y="425.3" font-size="17.6" fill="#F2BE2C" text-anchor="start" font-style="italic">Late Republican</text>
<text x="765.0" y="446.9" font-size="17.6" fill="#F2BE2C" text-anchor="start" font-style="italic">(n=9)</text>
<text x="929.0" y="419.9" font-size="17.6" fill="#C8202B" text-anchor="start" font-style="italic">Iron Age 1</text>
<text x="929.0" y="440.9" font-size="17.6" fill="#C8202B" text-anchor="start" font-style="italic">(n=45)</text>
<text x="846.6" y="496.3" font-size="17.6" fill="#F2BE2C" text-anchor="start" font-style="italic">Iron Age 2 (n=58)</text>
<text x="989.0" y="375.3" font-size="17.6" fill="#C8202B" text-anchor="start" font-style="italic">Late Republican</text>
<text x="994.4" y="395.9" font-size="17.6" fill="#C8202B" text-anchor="start" font-style="italic">(n=17)</text>
<text x="1052.0" y="425.5" font-size="17.6" fill="#C8202B" text-anchor="start" font-style="italic">Late Antiquity</text>
<text x="1052.0" y="445.9" font-size="17.6" fill="#C8202B" text-anchor="start" font-style="italic">(n=25)</text>
<text x="1041.0" y="473.3" font-size="17.6" fill="#C8202B" text-anchor="start" font-style="italic">Iron Age 2(n=52)</text>
<text x="1062.0" y="495.9" font-size="17.6" fill="#C8202B" text-anchor="start" font-style="italic">Roman Empire</text>
<text x="1067.0" y="517.9" font-size="17.6" fill="#C8202B" text-anchor="start" font-style="italic">(n=28)</text>
<text x="1035.6" y="532.9" font-size="17.6" fill="#F2BE2C" text-anchor="start" font-style="italic">Lat Antiquity(n=21)</text>
<text x="852.0" y="603.3" font-size="17.6" fill="#F2BE2C" text-anchor="start" font-style="italic">Roman Empire</text>
<text x="857.0" y="623.9" font-size="17.6" fill="#F2BE2C" text-anchor="start" font-style="italic">(n=11)</text>
<text x="988.0" y="622.9" font-size="17.6" fill="#F2BE2C" text-anchor="start" font-style="italic">Iron Age 1 (n=8)</text>
<path d="M947.5,765.3 L971.7,797.8" fill="none" stroke="#111" stroke-width="1.2"/>
<path d="M972.9,751.8 L972.6,797.0" fill="none" stroke="#111" stroke-width="1.2"/>
<path d="M1001.0,757.0 L972.6,795.9" fill="none" stroke="#111" stroke-width="1.2"/>
<path d="M971.7,797.8 L972.1,806.3" fill="none" stroke="#111" stroke-width="1.2"/>
<path d="M958.9,798.2 L971.7,803.4" fill="none" stroke="#111" stroke-width="1.2"/>
<path d="M946.1,814.8 L972.6,806.3" fill="none" stroke="#111" stroke-width="1.2"/>
<path d="M975.0,809.1 L1021.2,794.2" fill="none" stroke="#111" stroke-width="1.2"/>
<path d="M972.1,806.3 L975.5,812.9" fill="none" stroke="#111" stroke-width="1.2"/>
<path d="M975.5,812.9 L989.8,816.7" fill="none" stroke="#111" stroke-width="1.2"/>
<path d="M975.5,812.9 L975.9,822.4" fill="none" stroke="#111" stroke-width="1.2"/>
<path d="M975.9,822.4 L893.2,938.8" fill="none" stroke="#111" stroke-width="1.2"/>
<path d="M975.9,822.4 L974.0,832.0 L973.9,974.0" fill="none" stroke="#111" stroke-width="1.2"/>
<path d="M975.9,822.4 L1003.7,857.5" fill="none" stroke="#111" stroke-width="1.2"/>
<circle cx="972.9" cy="751.8" r="8.0" fill="#F9C13D"/>
<circle cx="958.9" cy="798.2" r="8.0" fill="#F9C13D"/>
<circle cx="946.1" cy="814.8" r="8.0" fill="#F9C13D"/>
<circle cx="989.8" cy="816.7" r="8.0" fill="#F9C13D"/>
<circle cx="1003.8" cy="857.5" r="8.0" fill="#F9C13D"/>
<rect x="940.6" y="758.4" width="13.8" height="13.8" fill="#CD0C10"/>
<rect x="994.1" y="750.1" width="13.8" height="13.8" fill="#CD0C10"/>
<rect x="1014.3" y="787.3" width="13.8" height="13.8" fill="#CD0C10"/>
<rect x="886.3" y="931.9" width="13.8" height="13.8" fill="#CD0C10"/>
<rect x="966.8" y="967.2" width="13.8" height="13.8" fill="#CD0C10"/>
<text x="882.0" y="741.9" font-size="17.6" fill="#F2BE2C" text-anchor="start" font-style="italic">Late Republican (n=28)</text>
<text x="804.0" y="765.3" font-size="17.6" fill="#C8202B" text-anchor="start" font-style="italic">Iron Age 2 (n=32)</text>
<text x="774.4" y="799.3" font-size="17.6" fill="#F2BE2C" text-anchor="start" font-style="italic">Roman Empire (n=96)</text>
<text x="774.4" y="824.5" font-size="17.6" fill="#F2BE2C" text-anchor="start" font-style="italic">Late Antiquity (n=32)</text>
<text x="1012.4" y="760.9" font-size="17.6" fill="#C8202B" text-anchor="start" font-style="italic">Late Antiquity (n=16)</text>
<text x="1029.0" y="798.9" font-size="17.6" fill="#C8202B" text-anchor="start" font-style="italic">Roman Empire (n=23)</text>
<text x="1005.6" y="826.5" font-size="17.6" fill="#F2BE2C" text-anchor="start" font-style="italic">Iron Age2 (n=125)</text>
<text x="1003.0" y="880.2" font-size="17.6" fill="#F2BE2C" text-anchor="start" font-style="italic">Iron Age 1 (n=16)</text>
<text x="765.1" y="961.2" font-size="17.6" fill="#C8202B" text-anchor="start" font-style="italic">Iron Age 1 (n=8)</text>
<text x="918.1" y="1000.9" font-size="17.6" fill="#C8202B" text-anchor="start" font-style="italic">Late Republican (n=8)</text>
</svg></body></html>
